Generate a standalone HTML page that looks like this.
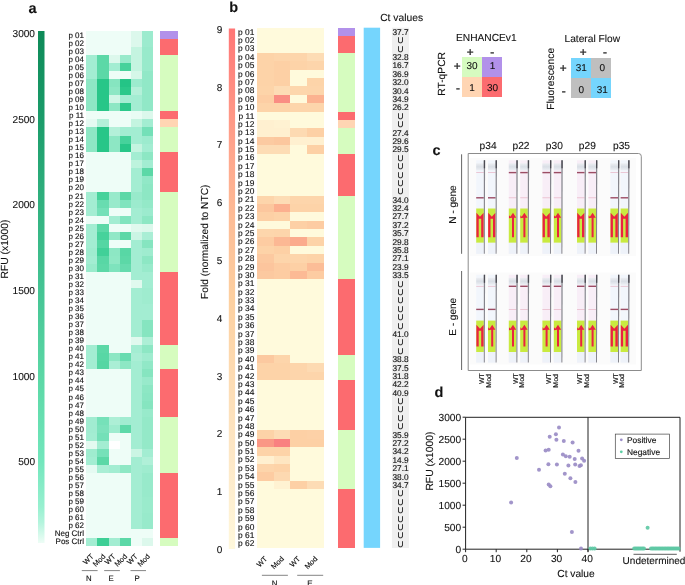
<!DOCTYPE html>
<html><head><meta charset="utf-8"><style>
html,body{margin:0;padding:0;background:#fff;}
svg{display:block;will-change:transform;}
.s{stroke-width:0.14px;}
text{font-family:"Liberation Sans", sans-serif;fill:#111;stroke:#111;stroke-width:0.1px;text-rendering:geometricPrecision;}
</style></head><body>
<svg width="685" height="585" viewBox="0 0 685 585">
<text x="28.6" y="12.8" font-size="14.5" font-weight="bold">a</text>
<defs><linearGradient id="ga" x1="0" y1="0" x2="0" y2="1"><stop offset="0" stop-color="#0e8a58"/><stop offset="0.164" stop-color="#1a9b69"/><stop offset="0.33" stop-color="#30b07e"/><stop offset="0.506" stop-color="#45c494"/><stop offset="0.68" stop-color="#5cd8a6"/><stop offset="0.838" stop-color="#72e6bc"/><stop offset="0.93" stop-color="#98f0d0"/><stop offset="0.96" stop-color="#b4f4dd"/><stop offset="1" stop-color="#eefdf6"/></linearGradient><linearGradient id="gb" x1="0" y1="0" x2="0" y2="1"><stop offset="0" stop-color="#ff7676"/><stop offset="0.1" stop-color="#ff8a80"/><stop offset="0.23" stop-color="#ffa48c"/><stop offset="0.364" stop-color="#fdbc96"/><stop offset="0.522" stop-color="#fdd0a0"/><stop offset="0.806" stop-color="#fde6c4"/><stop offset="1" stop-color="#fff8dc"/></linearGradient></defs>
<rect x="38" y="31" width="6.5" height="512" fill="url(#ga)"/>
<text x="35" y="37.2" font-size="10.1" text-anchor="end">3000</text>
<text x="35" y="122.8" font-size="10.1" text-anchor="end">2500</text>
<text x="35" y="208.4" font-size="10.1" text-anchor="end">2000</text>
<text x="35" y="294.0" font-size="10.1" text-anchor="end">1500</text>
<text x="35" y="379.6" font-size="10.1" text-anchor="end">1000</text>
<text x="35" y="465.2" font-size="10.1" text-anchor="end">500</text>
<text transform="translate(7.7,249) rotate(-90)" font-size="10.3" text-anchor="middle">RFU (x1000)</text>
<rect x="86.30" y="31.00" width="11.41" height="8.34" fill="#eefdf7" shape-rendering="crispEdges"/>
<rect x="97.41" y="31.00" width="11.41" height="8.34" fill="#eefdf7" shape-rendering="crispEdges"/>
<rect x="108.52" y="31.00" width="11.41" height="8.34" fill="#eefdf7" shape-rendering="crispEdges"/>
<rect x="119.63" y="31.00" width="11.41" height="8.34" fill="#eefdf7" shape-rendering="crispEdges"/>
<rect x="130.74" y="31.00" width="11.41" height="8.34" fill="#dcf8ec" shape-rendering="crispEdges"/>
<rect x="141.85" y="31.00" width="11.41" height="8.34" fill="#9cebce" shape-rendering="crispEdges"/>
<text class="s" x="84" y="37.70" font-size="8.0" text-anchor="end">p 01</text>
<rect x="160.3" y="31.00" width="17.4" height="8.34" fill="#b291ea" shape-rendering="crispEdges"/>
<rect x="86.30" y="39.04" width="11.41" height="8.34" fill="#eefdf7" shape-rendering="crispEdges"/>
<rect x="97.41" y="39.04" width="11.41" height="8.34" fill="#eefdf7" shape-rendering="crispEdges"/>
<rect x="108.52" y="39.04" width="11.41" height="8.34" fill="#eefdf7" shape-rendering="crispEdges"/>
<rect x="119.63" y="39.04" width="11.41" height="8.34" fill="#eefdf7" shape-rendering="crispEdges"/>
<rect x="130.74" y="39.04" width="11.41" height="8.34" fill="#dcf8ec" shape-rendering="crispEdges"/>
<rect x="141.85" y="39.04" width="11.41" height="8.34" fill="#9cebce" shape-rendering="crispEdges"/>
<text class="s" x="84" y="45.74" font-size="8.0" text-anchor="end">p 02</text>
<rect x="160.3" y="39.04" width="17.4" height="8.34" fill="#fc6b6f" shape-rendering="crispEdges"/>
<rect x="86.30" y="47.08" width="11.41" height="8.34" fill="#eefdf7" shape-rendering="crispEdges"/>
<rect x="97.41" y="47.08" width="11.41" height="8.34" fill="#eefdf7" shape-rendering="crispEdges"/>
<rect x="108.52" y="47.08" width="11.41" height="8.34" fill="#eefdf7" shape-rendering="crispEdges"/>
<rect x="119.63" y="47.08" width="11.41" height="8.34" fill="#eefdf7" shape-rendering="crispEdges"/>
<rect x="130.74" y="47.08" width="11.41" height="8.34" fill="#c4f4e0" shape-rendering="crispEdges"/>
<rect x="141.85" y="47.08" width="11.41" height="8.34" fill="#98eacb" shape-rendering="crispEdges"/>
<text class="s" x="84" y="53.78" font-size="8.0" text-anchor="end">p 03</text>
<rect x="160.3" y="47.08" width="17.4" height="8.34" fill="#fc6b6f" shape-rendering="crispEdges"/>
<rect x="86.30" y="55.12" width="11.41" height="8.34" fill="#a3edd2" shape-rendering="crispEdges"/>
<rect x="97.41" y="55.12" width="11.41" height="8.34" fill="#5cd8a7" shape-rendering="crispEdges"/>
<rect x="108.52" y="55.12" width="11.41" height="8.34" fill="#dcf8ec" shape-rendering="crispEdges"/>
<rect x="119.63" y="55.12" width="11.41" height="8.34" fill="#98eacb" shape-rendering="crispEdges"/>
<rect x="130.74" y="55.12" width="11.41" height="8.34" fill="#c4f4e0" shape-rendering="crispEdges"/>
<rect x="141.85" y="55.12" width="11.41" height="8.34" fill="#98eacb" shape-rendering="crispEdges"/>
<text class="s" x="84" y="61.82" font-size="8.0" text-anchor="end">p 04</text>
<rect x="160.3" y="55.12" width="17.4" height="8.34" fill="#d6fcbf" shape-rendering="crispEdges"/>
<rect x="86.30" y="63.16" width="11.41" height="8.34" fill="#a3edd2" shape-rendering="crispEdges"/>
<rect x="97.41" y="63.16" width="11.41" height="8.34" fill="#5cd8a7" shape-rendering="crispEdges"/>
<rect x="108.52" y="63.16" width="11.41" height="8.34" fill="#a3edd2" shape-rendering="crispEdges"/>
<rect x="119.63" y="63.16" width="11.41" height="8.34" fill="#46d29b" shape-rendering="crispEdges"/>
<rect x="130.74" y="63.16" width="11.41" height="8.34" fill="#c4f4e0" shape-rendering="crispEdges"/>
<rect x="141.85" y="63.16" width="11.41" height="8.34" fill="#98eacb" shape-rendering="crispEdges"/>
<text class="s" x="84" y="69.86" font-size="8.0" text-anchor="end">p 05</text>
<rect x="160.3" y="63.16" width="17.4" height="8.34" fill="#d6fcbf" shape-rendering="crispEdges"/>
<rect x="86.30" y="71.20" width="11.41" height="8.34" fill="#a3edd2" shape-rendering="crispEdges"/>
<rect x="97.41" y="71.20" width="11.41" height="8.34" fill="#5cd8a7" shape-rendering="crispEdges"/>
<rect x="108.52" y="71.20" width="11.41" height="8.34" fill="#eefdf7" shape-rendering="crispEdges"/>
<rect x="119.63" y="71.20" width="11.41" height="8.34" fill="#eefdf7" shape-rendering="crispEdges"/>
<rect x="130.74" y="71.20" width="11.41" height="8.34" fill="#d5f7e8" shape-rendering="crispEdges"/>
<rect x="141.85" y="71.20" width="11.41" height="8.34" fill="#91e8c7" shape-rendering="crispEdges"/>
<text class="s" x="84" y="77.90" font-size="8.0" text-anchor="end">p 06</text>
<rect x="160.3" y="71.20" width="17.4" height="8.34" fill="#d6fcbf" shape-rendering="crispEdges"/>
<rect x="86.30" y="79.24" width="11.41" height="8.34" fill="#8de7c4" shape-rendering="crispEdges"/>
<rect x="97.41" y="79.24" width="11.41" height="8.34" fill="#28c688" shape-rendering="crispEdges"/>
<rect x="108.52" y="79.24" width="11.41" height="8.34" fill="#86e5c0" shape-rendering="crispEdges"/>
<rect x="119.63" y="79.24" width="11.41" height="8.34" fill="#24c486" shape-rendering="crispEdges"/>
<rect x="130.74" y="79.24" width="11.41" height="8.34" fill="#9cebce" shape-rendering="crispEdges"/>
<rect x="141.85" y="79.24" width="11.41" height="8.34" fill="#91e8c7" shape-rendering="crispEdges"/>
<text class="s" x="84" y="85.94" font-size="8.0" text-anchor="end">p 07</text>
<rect x="160.3" y="79.24" width="17.4" height="8.34" fill="#d6fcbf" shape-rendering="crispEdges"/>
<rect x="86.30" y="87.28" width="11.41" height="8.34" fill="#8de7c4" shape-rendering="crispEdges"/>
<rect x="97.41" y="87.28" width="11.41" height="8.34" fill="#28c688" shape-rendering="crispEdges"/>
<rect x="108.52" y="87.28" width="11.41" height="8.34" fill="#8de7c4" shape-rendering="crispEdges"/>
<rect x="119.63" y="87.28" width="11.41" height="8.34" fill="#2bc88a" shape-rendering="crispEdges"/>
<rect x="130.74" y="87.28" width="11.41" height="8.34" fill="#b4f0d9" shape-rendering="crispEdges"/>
<rect x="141.85" y="87.28" width="11.41" height="8.34" fill="#91e8c7" shape-rendering="crispEdges"/>
<text class="s" x="84" y="93.98" font-size="8.0" text-anchor="end">p 08</text>
<rect x="160.3" y="87.28" width="17.4" height="8.34" fill="#d6fcbf" shape-rendering="crispEdges"/>
<rect x="86.30" y="95.32" width="11.41" height="8.34" fill="#8de7c4" shape-rendering="crispEdges"/>
<rect x="97.41" y="95.32" width="11.41" height="8.34" fill="#28c688" shape-rendering="crispEdges"/>
<rect x="108.52" y="95.32" width="11.41" height="8.34" fill="#d0f6e6" shape-rendering="crispEdges"/>
<rect x="119.63" y="95.32" width="11.41" height="8.34" fill="#a3edd2" shape-rendering="crispEdges"/>
<rect x="130.74" y="95.32" width="11.41" height="8.34" fill="#a3edd2" shape-rendering="crispEdges"/>
<rect x="141.85" y="95.32" width="11.41" height="8.34" fill="#91e8c7" shape-rendering="crispEdges"/>
<text class="s" x="84" y="102.02" font-size="8.0" text-anchor="end">p 09</text>
<rect x="160.3" y="95.32" width="17.4" height="8.34" fill="#d6fcbf" shape-rendering="crispEdges"/>
<rect x="86.30" y="103.36" width="11.41" height="8.34" fill="#8de7c4" shape-rendering="crispEdges"/>
<rect x="97.41" y="103.36" width="11.41" height="8.34" fill="#28c688" shape-rendering="crispEdges"/>
<rect x="108.52" y="103.36" width="11.41" height="8.34" fill="#8de7c4" shape-rendering="crispEdges"/>
<rect x="119.63" y="103.36" width="11.41" height="8.34" fill="#2bc88a" shape-rendering="crispEdges"/>
<rect x="130.74" y="103.36" width="11.41" height="8.34" fill="#a3edd2" shape-rendering="crispEdges"/>
<rect x="141.85" y="103.36" width="11.41" height="8.34" fill="#91e8c7" shape-rendering="crispEdges"/>
<text class="s" x="84" y="110.06" font-size="8.0" text-anchor="end">p 10</text>
<rect x="160.3" y="103.36" width="17.4" height="8.34" fill="#d6fcbf" shape-rendering="crispEdges"/>
<rect x="86.30" y="111.40" width="11.41" height="8.34" fill="#eefdf7" shape-rendering="crispEdges"/>
<rect x="97.41" y="111.40" width="11.41" height="8.34" fill="#eefdf7" shape-rendering="crispEdges"/>
<rect x="108.52" y="111.40" width="11.41" height="8.34" fill="#eefdf7" shape-rendering="crispEdges"/>
<rect x="119.63" y="111.40" width="11.41" height="8.34" fill="#eefdf7" shape-rendering="crispEdges"/>
<rect x="130.74" y="111.40" width="11.41" height="8.34" fill="#e9fcf4" shape-rendering="crispEdges"/>
<rect x="141.85" y="111.40" width="11.41" height="8.34" fill="#dcf8ec" shape-rendering="crispEdges"/>
<text class="s" x="84" y="118.10" font-size="8.0" text-anchor="end">p 11</text>
<rect x="160.3" y="111.40" width="17.4" height="8.34" fill="#fc6b6f" shape-rendering="crispEdges"/>
<rect x="86.30" y="119.44" width="11.41" height="8.34" fill="#e5faf2" shape-rendering="crispEdges"/>
<rect x="97.41" y="119.44" width="11.41" height="8.34" fill="#b4f0d9" shape-rendering="crispEdges"/>
<rect x="108.52" y="119.44" width="11.41" height="8.34" fill="#eefdf7" shape-rendering="crispEdges"/>
<rect x="119.63" y="119.44" width="11.41" height="8.34" fill="#eefdf7" shape-rendering="crispEdges"/>
<rect x="130.74" y="119.44" width="11.41" height="8.34" fill="#c4f4e0" shape-rendering="crispEdges"/>
<rect x="141.85" y="119.44" width="11.41" height="8.34" fill="#a3edd2" shape-rendering="crispEdges"/>
<text class="s" x="84" y="126.14" font-size="8.0" text-anchor="end">p 12</text>
<rect x="160.3" y="119.44" width="17.4" height="8.34" fill="#ffd5b3" shape-rendering="crispEdges"/>
<rect x="86.30" y="127.48" width="11.41" height="8.34" fill="#8de7c4" shape-rendering="crispEdges"/>
<rect x="97.41" y="127.48" width="11.41" height="8.34" fill="#28c688" shape-rendering="crispEdges"/>
<rect x="108.52" y="127.48" width="11.41" height="8.34" fill="#b4f0d9" shape-rendering="crispEdges"/>
<rect x="119.63" y="127.48" width="11.41" height="8.34" fill="#a3edd2" shape-rendering="crispEdges"/>
<rect x="130.74" y="127.48" width="11.41" height="8.34" fill="#a3edd2" shape-rendering="crispEdges"/>
<rect x="141.85" y="127.48" width="11.41" height="8.34" fill="#74e0b8" shape-rendering="crispEdges"/>
<text class="s" x="84" y="134.18" font-size="8.0" text-anchor="end">p 13</text>
<rect x="160.3" y="127.48" width="17.4" height="8.34" fill="#d6fcbf" shape-rendering="crispEdges"/>
<rect x="86.30" y="135.52" width="11.41" height="8.34" fill="#8de7c4" shape-rendering="crispEdges"/>
<rect x="97.41" y="135.52" width="11.41" height="8.34" fill="#28c688" shape-rendering="crispEdges"/>
<rect x="108.52" y="135.52" width="11.41" height="8.34" fill="#8de7c4" shape-rendering="crispEdges"/>
<rect x="119.63" y="135.52" width="11.41" height="8.34" fill="#46d29b" shape-rendering="crispEdges"/>
<rect x="130.74" y="135.52" width="11.41" height="8.34" fill="#a3edd2" shape-rendering="crispEdges"/>
<rect x="141.85" y="135.52" width="11.41" height="8.34" fill="#9cebce" shape-rendering="crispEdges"/>
<text class="s" x="84" y="142.22" font-size="8.0" text-anchor="end">p 14</text>
<rect x="160.3" y="135.52" width="17.4" height="8.34" fill="#d6fcbf" shape-rendering="crispEdges"/>
<rect x="86.30" y="143.56" width="11.41" height="8.34" fill="#8de7c4" shape-rendering="crispEdges"/>
<rect x="97.41" y="143.56" width="11.41" height="8.34" fill="#28c688" shape-rendering="crispEdges"/>
<rect x="108.52" y="143.56" width="11.41" height="8.34" fill="#8de7c4" shape-rendering="crispEdges"/>
<rect x="119.63" y="143.56" width="11.41" height="8.34" fill="#28c688" shape-rendering="crispEdges"/>
<rect x="130.74" y="143.56" width="11.41" height="8.34" fill="#c4f4e0" shape-rendering="crispEdges"/>
<rect x="141.85" y="143.56" width="11.41" height="8.34" fill="#a3edd2" shape-rendering="crispEdges"/>
<text class="s" x="84" y="150.26" font-size="8.0" text-anchor="end">p 15</text>
<rect x="160.3" y="143.56" width="17.4" height="8.34" fill="#d6fcbf" shape-rendering="crispEdges"/>
<rect x="86.30" y="151.60" width="11.41" height="8.34" fill="#eefdf7" shape-rendering="crispEdges"/>
<rect x="97.41" y="151.60" width="11.41" height="8.34" fill="#eefdf7" shape-rendering="crispEdges"/>
<rect x="108.52" y="151.60" width="11.41" height="8.34" fill="#eefdf7" shape-rendering="crispEdges"/>
<rect x="119.63" y="151.60" width="11.41" height="8.34" fill="#eefdf7" shape-rendering="crispEdges"/>
<rect x="130.74" y="151.60" width="11.41" height="8.34" fill="#a3edd2" shape-rendering="crispEdges"/>
<rect x="141.85" y="151.60" width="11.41" height="8.34" fill="#8de7c4" shape-rendering="crispEdges"/>
<text class="s" x="84" y="158.30" font-size="8.0" text-anchor="end">p 16</text>
<rect x="160.3" y="151.60" width="17.4" height="8.34" fill="#fc6b6f" shape-rendering="crispEdges"/>
<rect x="86.30" y="159.64" width="11.41" height="8.34" fill="#eefdf7" shape-rendering="crispEdges"/>
<rect x="97.41" y="159.64" width="11.41" height="8.34" fill="#eefdf7" shape-rendering="crispEdges"/>
<rect x="108.52" y="159.64" width="11.41" height="8.34" fill="#eefdf7" shape-rendering="crispEdges"/>
<rect x="119.63" y="159.64" width="11.41" height="8.34" fill="#eefdf7" shape-rendering="crispEdges"/>
<rect x="130.74" y="159.64" width="11.41" height="8.34" fill="#bdf3dd" shape-rendering="crispEdges"/>
<rect x="141.85" y="159.64" width="11.41" height="8.34" fill="#a3edd2" shape-rendering="crispEdges"/>
<text class="s" x="84" y="166.34" font-size="8.0" text-anchor="end">p 17</text>
<rect x="160.3" y="159.64" width="17.4" height="8.34" fill="#fc6b6f" shape-rendering="crispEdges"/>
<rect x="86.30" y="167.68" width="11.41" height="8.34" fill="#eefdf7" shape-rendering="crispEdges"/>
<rect x="97.41" y="167.68" width="11.41" height="8.34" fill="#eefdf7" shape-rendering="crispEdges"/>
<rect x="108.52" y="167.68" width="11.41" height="8.34" fill="#eefdf7" shape-rendering="crispEdges"/>
<rect x="119.63" y="167.68" width="11.41" height="8.34" fill="#eefdf7" shape-rendering="crispEdges"/>
<rect x="130.74" y="167.68" width="11.41" height="8.34" fill="#a3edd2" shape-rendering="crispEdges"/>
<rect x="141.85" y="167.68" width="11.41" height="8.34" fill="#5cd8a7" shape-rendering="crispEdges"/>
<text class="s" x="84" y="174.38" font-size="8.0" text-anchor="end">p 18</text>
<rect x="160.3" y="167.68" width="17.4" height="8.34" fill="#fc6b6f" shape-rendering="crispEdges"/>
<rect x="86.30" y="175.72" width="11.41" height="8.34" fill="#eefdf7" shape-rendering="crispEdges"/>
<rect x="97.41" y="175.72" width="11.41" height="8.34" fill="#eefdf7" shape-rendering="crispEdges"/>
<rect x="108.52" y="175.72" width="11.41" height="8.34" fill="#eefdf7" shape-rendering="crispEdges"/>
<rect x="119.63" y="175.72" width="11.41" height="8.34" fill="#eefdf7" shape-rendering="crispEdges"/>
<rect x="130.74" y="175.72" width="11.41" height="8.34" fill="#a3edd2" shape-rendering="crispEdges"/>
<rect x="141.85" y="175.72" width="11.41" height="8.34" fill="#91e8c7" shape-rendering="crispEdges"/>
<text class="s" x="84" y="182.42" font-size="8.0" text-anchor="end">p 19</text>
<rect x="160.3" y="175.72" width="17.4" height="8.34" fill="#fc6b6f" shape-rendering="crispEdges"/>
<rect x="86.30" y="183.76" width="11.41" height="8.34" fill="#eefdf7" shape-rendering="crispEdges"/>
<rect x="97.41" y="183.76" width="11.41" height="8.34" fill="#eefdf7" shape-rendering="crispEdges"/>
<rect x="108.52" y="183.76" width="11.41" height="8.34" fill="#eefdf7" shape-rendering="crispEdges"/>
<rect x="119.63" y="183.76" width="11.41" height="8.34" fill="#eefdf7" shape-rendering="crispEdges"/>
<rect x="130.74" y="183.76" width="11.41" height="8.34" fill="#a3edd2" shape-rendering="crispEdges"/>
<rect x="141.85" y="183.76" width="11.41" height="8.34" fill="#8de7c4" shape-rendering="crispEdges"/>
<text class="s" x="84" y="190.46" font-size="8.0" text-anchor="end">p 20</text>
<rect x="160.3" y="183.76" width="17.4" height="8.34" fill="#fc6b6f" shape-rendering="crispEdges"/>
<rect x="86.30" y="191.80" width="11.41" height="8.34" fill="#a3edd2" shape-rendering="crispEdges"/>
<rect x="97.41" y="191.80" width="11.41" height="8.34" fill="#46d29b" shape-rendering="crispEdges"/>
<rect x="108.52" y="191.80" width="11.41" height="8.34" fill="#98eacb" shape-rendering="crispEdges"/>
<rect x="119.63" y="191.80" width="11.41" height="8.34" fill="#5cd8a7" shape-rendering="crispEdges"/>
<rect x="130.74" y="191.80" width="11.41" height="8.34" fill="#98eacb" shape-rendering="crispEdges"/>
<rect x="141.85" y="191.80" width="11.41" height="8.34" fill="#8de7c4" shape-rendering="crispEdges"/>
<text class="s" x="84" y="198.50" font-size="8.0" text-anchor="end">p 21</text>
<rect x="160.3" y="191.80" width="17.4" height="8.34" fill="#d6fcbf" shape-rendering="crispEdges"/>
<rect x="86.30" y="199.84" width="11.41" height="8.34" fill="#a3edd2" shape-rendering="crispEdges"/>
<rect x="97.41" y="199.84" width="11.41" height="8.34" fill="#68dcb0" shape-rendering="crispEdges"/>
<rect x="108.52" y="199.84" width="11.41" height="8.34" fill="#98eacb" shape-rendering="crispEdges"/>
<rect x="119.63" y="199.84" width="11.41" height="8.34" fill="#80e4be" shape-rendering="crispEdges"/>
<rect x="130.74" y="199.84" width="11.41" height="8.34" fill="#9cebce" shape-rendering="crispEdges"/>
<rect x="141.85" y="199.84" width="11.41" height="8.34" fill="#94e9c8" shape-rendering="crispEdges"/>
<text class="s" x="84" y="206.54" font-size="8.0" text-anchor="end">p 22</text>
<rect x="160.3" y="199.84" width="17.4" height="8.34" fill="#d6fcbf" shape-rendering="crispEdges"/>
<rect x="86.30" y="207.88" width="11.41" height="8.34" fill="#a3edd2" shape-rendering="crispEdges"/>
<rect x="97.41" y="207.88" width="11.41" height="8.34" fill="#74e0b8" shape-rendering="crispEdges"/>
<rect x="108.52" y="207.88" width="11.41" height="8.34" fill="#eefdf7" shape-rendering="crispEdges"/>
<rect x="119.63" y="207.88" width="11.41" height="8.34" fill="#eefdf7" shape-rendering="crispEdges"/>
<rect x="130.74" y="207.88" width="11.41" height="8.34" fill="#a3edd2" shape-rendering="crispEdges"/>
<rect x="141.85" y="207.88" width="11.41" height="8.34" fill="#9cebce" shape-rendering="crispEdges"/>
<text class="s" x="84" y="214.58" font-size="8.0" text-anchor="end">p 23</text>
<rect x="160.3" y="207.88" width="17.4" height="8.34" fill="#d6fcbf" shape-rendering="crispEdges"/>
<rect x="86.30" y="215.92" width="11.41" height="8.34" fill="#eefdf7" shape-rendering="crispEdges"/>
<rect x="97.41" y="215.92" width="11.41" height="8.34" fill="#eefdf7" shape-rendering="crispEdges"/>
<rect x="108.52" y="215.92" width="11.41" height="8.34" fill="#a3edd2" shape-rendering="crispEdges"/>
<rect x="119.63" y="215.92" width="11.41" height="8.34" fill="#80e4be" shape-rendering="crispEdges"/>
<rect x="130.74" y="215.92" width="11.41" height="8.34" fill="#a3edd2" shape-rendering="crispEdges"/>
<rect x="141.85" y="215.92" width="11.41" height="8.34" fill="#8de7c4" shape-rendering="crispEdges"/>
<text class="s" x="84" y="222.62" font-size="8.0" text-anchor="end">p 24</text>
<rect x="160.3" y="215.92" width="17.4" height="8.34" fill="#d6fcbf" shape-rendering="crispEdges"/>
<rect x="86.30" y="223.96" width="11.41" height="8.34" fill="#a3edd2" shape-rendering="crispEdges"/>
<rect x="97.41" y="223.96" width="11.41" height="8.34" fill="#5cd8a7" shape-rendering="crispEdges"/>
<rect x="108.52" y="223.96" width="11.41" height="8.34" fill="#eefdf7" shape-rendering="crispEdges"/>
<rect x="119.63" y="223.96" width="11.41" height="8.34" fill="#eefdf7" shape-rendering="crispEdges"/>
<rect x="130.74" y="223.96" width="11.41" height="8.34" fill="#e0f9ee" shape-rendering="crispEdges"/>
<rect x="141.85" y="223.96" width="11.41" height="8.34" fill="#dcf8ec" shape-rendering="crispEdges"/>
<text class="s" x="84" y="230.66" font-size="8.0" text-anchor="end">p 25</text>
<rect x="160.3" y="223.96" width="17.4" height="8.34" fill="#d6fcbf" shape-rendering="crispEdges"/>
<rect x="86.30" y="232.00" width="11.41" height="8.34" fill="#a3edd2" shape-rendering="crispEdges"/>
<rect x="97.41" y="232.00" width="11.41" height="8.34" fill="#46d29b" shape-rendering="crispEdges"/>
<rect x="108.52" y="232.00" width="11.41" height="8.34" fill="#91e8c7" shape-rendering="crispEdges"/>
<rect x="119.63" y="232.00" width="11.41" height="8.34" fill="#5cd8a7" shape-rendering="crispEdges"/>
<rect x="130.74" y="232.00" width="11.41" height="8.34" fill="#cbf5e4" shape-rendering="crispEdges"/>
<rect x="141.85" y="232.00" width="11.41" height="8.34" fill="#aaeed5" shape-rendering="crispEdges"/>
<text class="s" x="84" y="238.70" font-size="8.0" text-anchor="end">p 26</text>
<rect x="160.3" y="232.00" width="17.4" height="8.34" fill="#d6fcbf" shape-rendering="crispEdges"/>
<rect x="86.30" y="240.04" width="11.41" height="8.34" fill="#a3edd2" shape-rendering="crispEdges"/>
<rect x="97.41" y="240.04" width="11.41" height="8.34" fill="#55d6a3" shape-rendering="crispEdges"/>
<rect x="108.52" y="240.04" width="11.41" height="8.34" fill="#eefdf7" shape-rendering="crispEdges"/>
<rect x="119.63" y="240.04" width="11.41" height="8.34" fill="#eefdf7" shape-rendering="crispEdges"/>
<rect x="130.74" y="240.04" width="11.41" height="8.34" fill="#a3edd2" shape-rendering="crispEdges"/>
<rect x="141.85" y="240.04" width="11.41" height="8.34" fill="#86e5c0" shape-rendering="crispEdges"/>
<text class="s" x="84" y="246.74" font-size="8.0" text-anchor="end">p 27</text>
<rect x="160.3" y="240.04" width="17.4" height="8.34" fill="#d6fcbf" shape-rendering="crispEdges"/>
<rect x="86.30" y="248.08" width="11.41" height="8.34" fill="#9feccf" shape-rendering="crispEdges"/>
<rect x="97.41" y="248.08" width="11.41" height="8.34" fill="#41d098" shape-rendering="crispEdges"/>
<rect x="108.52" y="248.08" width="11.41" height="8.34" fill="#8de7c4" shape-rendering="crispEdges"/>
<rect x="119.63" y="248.08" width="11.41" height="8.34" fill="#58d7a5" shape-rendering="crispEdges"/>
<rect x="130.74" y="248.08" width="11.41" height="8.34" fill="#a3edd2" shape-rendering="crispEdges"/>
<rect x="141.85" y="248.08" width="11.41" height="8.34" fill="#9feccf" shape-rendering="crispEdges"/>
<text class="s" x="84" y="254.78" font-size="8.0" text-anchor="end">p 28</text>
<rect x="160.3" y="248.08" width="17.4" height="8.34" fill="#d6fcbf" shape-rendering="crispEdges"/>
<rect x="86.30" y="256.12" width="11.41" height="8.34" fill="#a3edd2" shape-rendering="crispEdges"/>
<rect x="97.41" y="256.12" width="11.41" height="8.34" fill="#58d7a5" shape-rendering="crispEdges"/>
<rect x="108.52" y="256.12" width="11.41" height="8.34" fill="#8fe8c5" shape-rendering="crispEdges"/>
<rect x="119.63" y="256.12" width="11.41" height="8.34" fill="#5cd8a7" shape-rendering="crispEdges"/>
<rect x="130.74" y="256.12" width="11.41" height="8.34" fill="#a3edd2" shape-rendering="crispEdges"/>
<rect x="141.85" y="256.12" width="11.41" height="8.34" fill="#8de7c4" shape-rendering="crispEdges"/>
<text class="s" x="84" y="262.82" font-size="8.0" text-anchor="end">p 29</text>
<rect x="160.3" y="256.12" width="17.4" height="8.34" fill="#d6fcbf" shape-rendering="crispEdges"/>
<rect x="86.30" y="264.16" width="11.41" height="8.34" fill="#9aebcc" shape-rendering="crispEdges"/>
<rect x="97.41" y="264.16" width="11.41" height="8.34" fill="#5cd8a7" shape-rendering="crispEdges"/>
<rect x="108.52" y="264.16" width="11.41" height="8.34" fill="#7ee3bd" shape-rendering="crispEdges"/>
<rect x="119.63" y="264.16" width="11.41" height="8.34" fill="#66dbae" shape-rendering="crispEdges"/>
<rect x="130.74" y="264.16" width="11.41" height="8.34" fill="#a3edd2" shape-rendering="crispEdges"/>
<rect x="141.85" y="264.16" width="11.41" height="8.34" fill="#98eacb" shape-rendering="crispEdges"/>
<text class="s" x="84" y="270.86" font-size="8.0" text-anchor="end">p 30</text>
<rect x="160.3" y="264.16" width="17.4" height="8.34" fill="#d6fcbf" shape-rendering="crispEdges"/>
<rect x="86.30" y="272.20" width="11.41" height="8.34" fill="#eefdf7" shape-rendering="crispEdges"/>
<rect x="97.41" y="272.20" width="11.41" height="8.34" fill="#eefdf7" shape-rendering="crispEdges"/>
<rect x="108.52" y="272.20" width="11.41" height="8.34" fill="#eefdf7" shape-rendering="crispEdges"/>
<rect x="119.63" y="272.20" width="11.41" height="8.34" fill="#eefdf7" shape-rendering="crispEdges"/>
<rect x="130.74" y="272.20" width="11.41" height="8.34" fill="#a3edd2" shape-rendering="crispEdges"/>
<rect x="141.85" y="272.20" width="11.41" height="8.34" fill="#a3edd2" shape-rendering="crispEdges"/>
<text class="s" x="84" y="278.90" font-size="8.0" text-anchor="end">p 31</text>
<rect x="160.3" y="272.20" width="17.4" height="8.34" fill="#fc6b6f" shape-rendering="crispEdges"/>
<rect x="86.30" y="280.24" width="11.41" height="8.34" fill="#eefdf7" shape-rendering="crispEdges"/>
<rect x="97.41" y="280.24" width="11.41" height="8.34" fill="#eefdf7" shape-rendering="crispEdges"/>
<rect x="108.52" y="280.24" width="11.41" height="8.34" fill="#eefdf7" shape-rendering="crispEdges"/>
<rect x="119.63" y="280.24" width="11.41" height="8.34" fill="#eefdf7" shape-rendering="crispEdges"/>
<rect x="130.74" y="280.24" width="11.41" height="8.34" fill="#e0f9ee" shape-rendering="crispEdges"/>
<rect x="141.85" y="280.24" width="11.41" height="8.34" fill="#a3edd2" shape-rendering="crispEdges"/>
<text class="s" x="84" y="286.94" font-size="8.0" text-anchor="end">p 32</text>
<rect x="160.3" y="280.24" width="17.4" height="8.34" fill="#fc6b6f" shape-rendering="crispEdges"/>
<rect x="86.30" y="288.28" width="11.41" height="8.34" fill="#eefdf7" shape-rendering="crispEdges"/>
<rect x="97.41" y="288.28" width="11.41" height="8.34" fill="#eefdf7" shape-rendering="crispEdges"/>
<rect x="108.52" y="288.28" width="11.41" height="8.34" fill="#eefdf7" shape-rendering="crispEdges"/>
<rect x="119.63" y="288.28" width="11.41" height="8.34" fill="#eefdf7" shape-rendering="crispEdges"/>
<rect x="130.74" y="288.28" width="11.41" height="8.34" fill="#a3edd2" shape-rendering="crispEdges"/>
<rect x="141.85" y="288.28" width="11.41" height="8.34" fill="#9feccf" shape-rendering="crispEdges"/>
<text class="s" x="84" y="294.98" font-size="8.0" text-anchor="end">p 33</text>
<rect x="160.3" y="288.28" width="17.4" height="8.34" fill="#fc6b6f" shape-rendering="crispEdges"/>
<rect x="86.30" y="296.32" width="11.41" height="8.34" fill="#eefdf7" shape-rendering="crispEdges"/>
<rect x="97.41" y="296.32" width="11.41" height="8.34" fill="#eefdf7" shape-rendering="crispEdges"/>
<rect x="108.52" y="296.32" width="11.41" height="8.34" fill="#eefdf7" shape-rendering="crispEdges"/>
<rect x="119.63" y="296.32" width="11.41" height="8.34" fill="#eefdf7" shape-rendering="crispEdges"/>
<rect x="130.74" y="296.32" width="11.41" height="8.34" fill="#a3edd2" shape-rendering="crispEdges"/>
<rect x="141.85" y="296.32" width="11.41" height="8.34" fill="#9feccf" shape-rendering="crispEdges"/>
<text class="s" x="84" y="303.02" font-size="8.0" text-anchor="end">p 34</text>
<rect x="160.3" y="296.32" width="17.4" height="8.34" fill="#fc6b6f" shape-rendering="crispEdges"/>
<rect x="86.30" y="304.36" width="11.41" height="8.34" fill="#eefdf7" shape-rendering="crispEdges"/>
<rect x="97.41" y="304.36" width="11.41" height="8.34" fill="#eefdf7" shape-rendering="crispEdges"/>
<rect x="108.52" y="304.36" width="11.41" height="8.34" fill="#eefdf7" shape-rendering="crispEdges"/>
<rect x="119.63" y="304.36" width="11.41" height="8.34" fill="#eefdf7" shape-rendering="crispEdges"/>
<rect x="130.74" y="304.36" width="11.41" height="8.34" fill="#a3edd2" shape-rendering="crispEdges"/>
<rect x="141.85" y="304.36" width="11.41" height="8.34" fill="#a3edd2" shape-rendering="crispEdges"/>
<text class="s" x="84" y="311.06" font-size="8.0" text-anchor="end">p 35</text>
<rect x="160.3" y="304.36" width="17.4" height="8.34" fill="#fc6b6f" shape-rendering="crispEdges"/>
<rect x="86.30" y="312.40" width="11.41" height="8.34" fill="#eefdf7" shape-rendering="crispEdges"/>
<rect x="97.41" y="312.40" width="11.41" height="8.34" fill="#eefdf7" shape-rendering="crispEdges"/>
<rect x="108.52" y="312.40" width="11.41" height="8.34" fill="#eefdf7" shape-rendering="crispEdges"/>
<rect x="119.63" y="312.40" width="11.41" height="8.34" fill="#eefdf7" shape-rendering="crispEdges"/>
<rect x="130.74" y="312.40" width="11.41" height="8.34" fill="#a3edd2" shape-rendering="crispEdges"/>
<rect x="141.85" y="312.40" width="11.41" height="8.34" fill="#a3edd2" shape-rendering="crispEdges"/>
<text class="s" x="84" y="319.10" font-size="8.0" text-anchor="end">p 36</text>
<rect x="160.3" y="312.40" width="17.4" height="8.34" fill="#fc6b6f" shape-rendering="crispEdges"/>
<rect x="86.30" y="320.44" width="11.41" height="8.34" fill="#eefdf7" shape-rendering="crispEdges"/>
<rect x="97.41" y="320.44" width="11.41" height="8.34" fill="#eefdf7" shape-rendering="crispEdges"/>
<rect x="108.52" y="320.44" width="11.41" height="8.34" fill="#eefdf7" shape-rendering="crispEdges"/>
<rect x="119.63" y="320.44" width="11.41" height="8.34" fill="#eefdf7" shape-rendering="crispEdges"/>
<rect x="130.74" y="320.44" width="11.41" height="8.34" fill="#a3edd2" shape-rendering="crispEdges"/>
<rect x="141.85" y="320.44" width="11.41" height="8.34" fill="#86e5c0" shape-rendering="crispEdges"/>
<text class="s" x="84" y="327.14" font-size="8.0" text-anchor="end">p 37</text>
<rect x="160.3" y="320.44" width="17.4" height="8.34" fill="#fc6b6f" shape-rendering="crispEdges"/>
<rect x="86.30" y="328.48" width="11.41" height="8.34" fill="#eefdf7" shape-rendering="crispEdges"/>
<rect x="97.41" y="328.48" width="11.41" height="8.34" fill="#eefdf7" shape-rendering="crispEdges"/>
<rect x="108.52" y="328.48" width="11.41" height="8.34" fill="#eefdf7" shape-rendering="crispEdges"/>
<rect x="119.63" y="328.48" width="11.41" height="8.34" fill="#eefdf7" shape-rendering="crispEdges"/>
<rect x="130.74" y="328.48" width="11.41" height="8.34" fill="#a3edd2" shape-rendering="crispEdges"/>
<rect x="141.85" y="328.48" width="11.41" height="8.34" fill="#86e5c0" shape-rendering="crispEdges"/>
<text class="s" x="84" y="335.18" font-size="8.0" text-anchor="end">p 38</text>
<rect x="160.3" y="328.48" width="17.4" height="8.34" fill="#fc6b6f" shape-rendering="crispEdges"/>
<rect x="86.30" y="336.52" width="11.41" height="8.34" fill="#eefdf7" shape-rendering="crispEdges"/>
<rect x="97.41" y="336.52" width="11.41" height="8.34" fill="#eefdf7" shape-rendering="crispEdges"/>
<rect x="108.52" y="336.52" width="11.41" height="8.34" fill="#eefdf7" shape-rendering="crispEdges"/>
<rect x="119.63" y="336.52" width="11.41" height="8.34" fill="#eefdf7" shape-rendering="crispEdges"/>
<rect x="130.74" y="336.52" width="11.41" height="8.34" fill="#e0f9ee" shape-rendering="crispEdges"/>
<rect x="141.85" y="336.52" width="11.41" height="8.34" fill="#adefd6" shape-rendering="crispEdges"/>
<text class="s" x="84" y="343.22" font-size="8.0" text-anchor="end">p 39</text>
<rect x="160.3" y="336.52" width="17.4" height="8.34" fill="#fc6b6f" shape-rendering="crispEdges"/>
<rect x="86.30" y="344.56" width="11.41" height="8.34" fill="#a3edd2" shape-rendering="crispEdges"/>
<rect x="97.41" y="344.56" width="11.41" height="8.34" fill="#5cd8a7" shape-rendering="crispEdges"/>
<rect x="108.52" y="344.56" width="11.41" height="8.34" fill="#eefdf7" shape-rendering="crispEdges"/>
<rect x="119.63" y="344.56" width="11.41" height="8.34" fill="#eefdf7" shape-rendering="crispEdges"/>
<rect x="130.74" y="344.56" width="11.41" height="8.34" fill="#a3edd2" shape-rendering="crispEdges"/>
<rect x="141.85" y="344.56" width="11.41" height="8.34" fill="#8de7c4" shape-rendering="crispEdges"/>
<text class="s" x="84" y="351.26" font-size="8.0" text-anchor="end">p 40</text>
<rect x="160.3" y="344.56" width="17.4" height="8.34" fill="#d6fcbf" shape-rendering="crispEdges"/>
<rect x="86.30" y="352.60" width="11.41" height="8.34" fill="#a3edd2" shape-rendering="crispEdges"/>
<rect x="97.41" y="352.60" width="11.41" height="8.34" fill="#58d7a5" shape-rendering="crispEdges"/>
<rect x="108.52" y="352.60" width="11.41" height="8.34" fill="#8de7c4" shape-rendering="crispEdges"/>
<rect x="119.63" y="352.60" width="11.41" height="8.34" fill="#68dcb0" shape-rendering="crispEdges"/>
<rect x="130.74" y="352.60" width="11.41" height="8.34" fill="#aaeed5" shape-rendering="crispEdges"/>
<rect x="141.85" y="352.60" width="11.41" height="8.34" fill="#9feccf" shape-rendering="crispEdges"/>
<text class="s" x="84" y="359.30" font-size="8.0" text-anchor="end">p 41</text>
<rect x="160.3" y="352.60" width="17.4" height="8.34" fill="#d6fcbf" shape-rendering="crispEdges"/>
<rect x="86.30" y="360.64" width="11.41" height="8.34" fill="#a3edd2" shape-rendering="crispEdges"/>
<rect x="97.41" y="360.64" width="11.41" height="8.34" fill="#55d6a3" shape-rendering="crispEdges"/>
<rect x="108.52" y="360.64" width="11.41" height="8.34" fill="#aaeed5" shape-rendering="crispEdges"/>
<rect x="119.63" y="360.64" width="11.41" height="8.34" fill="#8de7c4" shape-rendering="crispEdges"/>
<rect x="130.74" y="360.64" width="11.41" height="8.34" fill="#a3edd2" shape-rendering="crispEdges"/>
<rect x="141.85" y="360.64" width="11.41" height="8.34" fill="#91e8c7" shape-rendering="crispEdges"/>
<text class="s" x="84" y="367.34" font-size="8.0" text-anchor="end">p 42</text>
<rect x="160.3" y="360.64" width="17.4" height="8.34" fill="#d6fcbf" shape-rendering="crispEdges"/>
<rect x="86.30" y="368.68" width="11.41" height="8.34" fill="#eefdf7" shape-rendering="crispEdges"/>
<rect x="97.41" y="368.68" width="11.41" height="8.34" fill="#eefdf7" shape-rendering="crispEdges"/>
<rect x="108.52" y="368.68" width="11.41" height="8.34" fill="#eefdf7" shape-rendering="crispEdges"/>
<rect x="119.63" y="368.68" width="11.41" height="8.34" fill="#eefdf7" shape-rendering="crispEdges"/>
<rect x="130.74" y="368.68" width="11.41" height="8.34" fill="#a3edd2" shape-rendering="crispEdges"/>
<rect x="141.85" y="368.68" width="11.41" height="8.34" fill="#86e5c0" shape-rendering="crispEdges"/>
<text class="s" x="84" y="375.38" font-size="8.0" text-anchor="end">p 43</text>
<rect x="160.3" y="368.68" width="17.4" height="8.34" fill="#fc6b6f" shape-rendering="crispEdges"/>
<rect x="86.30" y="376.72" width="11.41" height="8.34" fill="#eefdf7" shape-rendering="crispEdges"/>
<rect x="97.41" y="376.72" width="11.41" height="8.34" fill="#eefdf7" shape-rendering="crispEdges"/>
<rect x="108.52" y="376.72" width="11.41" height="8.34" fill="#eefdf7" shape-rendering="crispEdges"/>
<rect x="119.63" y="376.72" width="11.41" height="8.34" fill="#eefdf7" shape-rendering="crispEdges"/>
<rect x="130.74" y="376.72" width="11.41" height="8.34" fill="#a3edd2" shape-rendering="crispEdges"/>
<rect x="141.85" y="376.72" width="11.41" height="8.34" fill="#98eacb" shape-rendering="crispEdges"/>
<text class="s" x="84" y="383.42" font-size="8.0" text-anchor="end">p 44</text>
<rect x="160.3" y="376.72" width="17.4" height="8.34" fill="#fc6b6f" shape-rendering="crispEdges"/>
<rect x="86.30" y="384.76" width="11.41" height="8.34" fill="#eefdf7" shape-rendering="crispEdges"/>
<rect x="97.41" y="384.76" width="11.41" height="8.34" fill="#eefdf7" shape-rendering="crispEdges"/>
<rect x="108.52" y="384.76" width="11.41" height="8.34" fill="#eefdf7" shape-rendering="crispEdges"/>
<rect x="119.63" y="384.76" width="11.41" height="8.34" fill="#eefdf7" shape-rendering="crispEdges"/>
<rect x="130.74" y="384.76" width="11.41" height="8.34" fill="#a3edd2" shape-rendering="crispEdges"/>
<rect x="141.85" y="384.76" width="11.41" height="8.34" fill="#8de7c4" shape-rendering="crispEdges"/>
<text class="s" x="84" y="391.46" font-size="8.0" text-anchor="end">p 45</text>
<rect x="160.3" y="384.76" width="17.4" height="8.34" fill="#fc6b6f" shape-rendering="crispEdges"/>
<rect x="86.30" y="392.80" width="11.41" height="8.34" fill="#eefdf7" shape-rendering="crispEdges"/>
<rect x="97.41" y="392.80" width="11.41" height="8.34" fill="#eefdf7" shape-rendering="crispEdges"/>
<rect x="108.52" y="392.80" width="11.41" height="8.34" fill="#eefdf7" shape-rendering="crispEdges"/>
<rect x="119.63" y="392.80" width="11.41" height="8.34" fill="#eefdf7" shape-rendering="crispEdges"/>
<rect x="130.74" y="392.80" width="11.41" height="8.34" fill="#a3edd2" shape-rendering="crispEdges"/>
<rect x="141.85" y="392.80" width="11.41" height="8.34" fill="#8ae6c3" shape-rendering="crispEdges"/>
<text class="s" x="84" y="399.50" font-size="8.0" text-anchor="end">p 46</text>
<rect x="160.3" y="392.80" width="17.4" height="8.34" fill="#fc6b6f" shape-rendering="crispEdges"/>
<rect x="86.30" y="400.84" width="11.41" height="8.34" fill="#eefdf7" shape-rendering="crispEdges"/>
<rect x="97.41" y="400.84" width="11.41" height="8.34" fill="#eefdf7" shape-rendering="crispEdges"/>
<rect x="108.52" y="400.84" width="11.41" height="8.34" fill="#eefdf7" shape-rendering="crispEdges"/>
<rect x="119.63" y="400.84" width="11.41" height="8.34" fill="#eefdf7" shape-rendering="crispEdges"/>
<rect x="130.74" y="400.84" width="11.41" height="8.34" fill="#a3edd2" shape-rendering="crispEdges"/>
<rect x="141.85" y="400.84" width="11.41" height="8.34" fill="#86e5c0" shape-rendering="crispEdges"/>
<text class="s" x="84" y="407.54" font-size="8.0" text-anchor="end">p 47</text>
<rect x="160.3" y="400.84" width="17.4" height="8.34" fill="#fc6b6f" shape-rendering="crispEdges"/>
<rect x="86.30" y="408.88" width="11.41" height="8.34" fill="#eefdf7" shape-rendering="crispEdges"/>
<rect x="97.41" y="408.88" width="11.41" height="8.34" fill="#eefdf7" shape-rendering="crispEdges"/>
<rect x="108.52" y="408.88" width="11.41" height="8.34" fill="#eefdf7" shape-rendering="crispEdges"/>
<rect x="119.63" y="408.88" width="11.41" height="8.34" fill="#eefdf7" shape-rendering="crispEdges"/>
<rect x="130.74" y="408.88" width="11.41" height="8.34" fill="#a3edd2" shape-rendering="crispEdges"/>
<rect x="141.85" y="408.88" width="11.41" height="8.34" fill="#98eacb" shape-rendering="crispEdges"/>
<text class="s" x="84" y="415.58" font-size="8.0" text-anchor="end">p 48</text>
<rect x="160.3" y="408.88" width="17.4" height="8.34" fill="#fc6b6f" shape-rendering="crispEdges"/>
<rect x="86.30" y="416.92" width="11.41" height="8.34" fill="#a1ecd1" shape-rendering="crispEdges"/>
<rect x="97.41" y="416.92" width="11.41" height="8.34" fill="#76e1b9" shape-rendering="crispEdges"/>
<rect x="108.52" y="416.92" width="11.41" height="8.34" fill="#adefd6" shape-rendering="crispEdges"/>
<rect x="119.63" y="416.92" width="11.41" height="8.34" fill="#a1ecd1" shape-rendering="crispEdges"/>
<rect x="130.74" y="416.92" width="11.41" height="8.34" fill="#a3edd2" shape-rendering="crispEdges"/>
<rect x="141.85" y="416.92" width="11.41" height="8.34" fill="#94e9c8" shape-rendering="crispEdges"/>
<text class="s" x="84" y="423.62" font-size="8.0" text-anchor="end">p 49</text>
<rect x="160.3" y="416.92" width="17.4" height="8.34" fill="#d6fcbf" shape-rendering="crispEdges"/>
<rect x="86.30" y="424.96" width="11.41" height="8.34" fill="#a1ecd1" shape-rendering="crispEdges"/>
<rect x="97.41" y="424.96" width="11.41" height="8.34" fill="#7ce2bc" shape-rendering="crispEdges"/>
<rect x="108.52" y="424.96" width="11.41" height="8.34" fill="#9feccf" shape-rendering="crispEdges"/>
<rect x="119.63" y="424.96" width="11.41" height="8.34" fill="#5ed9a9" shape-rendering="crispEdges"/>
<rect x="130.74" y="424.96" width="11.41" height="8.34" fill="#a3edd2" shape-rendering="crispEdges"/>
<rect x="141.85" y="424.96" width="11.41" height="8.34" fill="#94e9c8" shape-rendering="crispEdges"/>
<text class="s" x="84" y="431.66" font-size="8.0" text-anchor="end">p 50</text>
<rect x="160.3" y="424.96" width="17.4" height="8.34" fill="#d6fcbf" shape-rendering="crispEdges"/>
<rect x="86.30" y="433.00" width="11.41" height="8.34" fill="#a3edd2" shape-rendering="crispEdges"/>
<rect x="97.41" y="433.00" width="11.41" height="8.34" fill="#74e0b8" shape-rendering="crispEdges"/>
<rect x="108.52" y="433.00" width="11.41" height="8.34" fill="#eefdf7" shape-rendering="crispEdges"/>
<rect x="119.63" y="433.00" width="11.41" height="8.34" fill="#eefdf7" shape-rendering="crispEdges"/>
<rect x="130.74" y="433.00" width="11.41" height="8.34" fill="#a3edd2" shape-rendering="crispEdges"/>
<rect x="141.85" y="433.00" width="11.41" height="8.34" fill="#94e9c8" shape-rendering="crispEdges"/>
<text class="s" x="84" y="439.70" font-size="8.0" text-anchor="end">p 51</text>
<rect x="160.3" y="433.00" width="17.4" height="8.34" fill="#d6fcbf" shape-rendering="crispEdges"/>
<rect x="86.30" y="441.04" width="11.41" height="8.34" fill="#e3faf0" shape-rendering="crispEdges"/>
<rect x="97.41" y="441.04" width="11.41" height="8.34" fill="#a3edd2" shape-rendering="crispEdges"/>
<rect x="108.52" y="441.04" width="11.41" height="8.34" fill="#ffffff" shape-rendering="crispEdges"/>
<rect x="119.63" y="441.04" width="11.41" height="8.34" fill="#eefdf7" shape-rendering="crispEdges"/>
<rect x="130.74" y="441.04" width="11.41" height="8.34" fill="#a3edd2" shape-rendering="crispEdges"/>
<rect x="141.85" y="441.04" width="11.41" height="8.34" fill="#94e9c8" shape-rendering="crispEdges"/>
<text class="s" x="84" y="447.74" font-size="8.0" text-anchor="end">p 52</text>
<rect x="160.3" y="441.04" width="17.4" height="8.34" fill="#d6fcbf" shape-rendering="crispEdges"/>
<rect x="86.30" y="449.08" width="11.41" height="8.34" fill="#9feccf" shape-rendering="crispEdges"/>
<rect x="97.41" y="449.08" width="11.41" height="8.34" fill="#76e1b9" shape-rendering="crispEdges"/>
<rect x="108.52" y="449.08" width="11.41" height="8.34" fill="#eefdf7" shape-rendering="crispEdges"/>
<rect x="119.63" y="449.08" width="11.41" height="8.34" fill="#eefdf7" shape-rendering="crispEdges"/>
<rect x="130.74" y="449.08" width="11.41" height="8.34" fill="#cbf5e4" shape-rendering="crispEdges"/>
<rect x="141.85" y="449.08" width="11.41" height="8.34" fill="#a3edd2" shape-rendering="crispEdges"/>
<text class="s" x="84" y="455.78" font-size="8.0" text-anchor="end">p 53</text>
<rect x="160.3" y="449.08" width="17.4" height="8.34" fill="#d6fcbf" shape-rendering="crispEdges"/>
<rect x="86.30" y="457.12" width="11.41" height="8.34" fill="#a3edd2" shape-rendering="crispEdges"/>
<rect x="97.41" y="457.12" width="11.41" height="8.34" fill="#5cd8a7" shape-rendering="crispEdges"/>
<rect x="108.52" y="457.12" width="11.41" height="8.34" fill="#eefdf7" shape-rendering="crispEdges"/>
<rect x="119.63" y="457.12" width="11.41" height="8.34" fill="#eefdf7" shape-rendering="crispEdges"/>
<rect x="130.74" y="457.12" width="11.41" height="8.34" fill="#a3edd2" shape-rendering="crispEdges"/>
<rect x="141.85" y="457.12" width="11.41" height="8.34" fill="#b0f0d8" shape-rendering="crispEdges"/>
<text class="s" x="84" y="463.82" font-size="8.0" text-anchor="end">p 54</text>
<rect x="160.3" y="457.12" width="17.4" height="8.34" fill="#d6fcbf" shape-rendering="crispEdges"/>
<rect x="86.30" y="465.16" width="11.41" height="8.34" fill="#e5faf2" shape-rendering="crispEdges"/>
<rect x="97.41" y="465.16" width="11.41" height="8.34" fill="#aaeed5" shape-rendering="crispEdges"/>
<rect x="108.52" y="465.16" width="11.41" height="8.34" fill="#a3edd2" shape-rendering="crispEdges"/>
<rect x="119.63" y="465.16" width="11.41" height="8.34" fill="#8fe8c5" shape-rendering="crispEdges"/>
<rect x="130.74" y="465.16" width="11.41" height="8.34" fill="#a3edd2" shape-rendering="crispEdges"/>
<rect x="141.85" y="465.16" width="11.41" height="8.34" fill="#9feccf" shape-rendering="crispEdges"/>
<text class="s" x="84" y="471.86" font-size="8.0" text-anchor="end">p 55</text>
<rect x="160.3" y="465.16" width="17.4" height="8.34" fill="#d6fcbf" shape-rendering="crispEdges"/>
<rect x="86.30" y="473.20" width="11.41" height="8.34" fill="#eefdf7" shape-rendering="crispEdges"/>
<rect x="97.41" y="473.20" width="11.41" height="8.34" fill="#eefdf7" shape-rendering="crispEdges"/>
<rect x="108.52" y="473.20" width="11.41" height="8.34" fill="#eefdf7" shape-rendering="crispEdges"/>
<rect x="119.63" y="473.20" width="11.41" height="8.34" fill="#eefdf7" shape-rendering="crispEdges"/>
<rect x="130.74" y="473.20" width="11.41" height="8.34" fill="#a3edd2" shape-rendering="crispEdges"/>
<rect x="141.85" y="473.20" width="11.41" height="8.34" fill="#98eacb" shape-rendering="crispEdges"/>
<text class="s" x="84" y="479.90" font-size="8.0" text-anchor="end">p 56</text>
<rect x="160.3" y="473.20" width="17.4" height="8.34" fill="#fc6b6f" shape-rendering="crispEdges"/>
<rect x="86.30" y="481.24" width="11.41" height="8.34" fill="#eefdf7" shape-rendering="crispEdges"/>
<rect x="97.41" y="481.24" width="11.41" height="8.34" fill="#eefdf7" shape-rendering="crispEdges"/>
<rect x="108.52" y="481.24" width="11.41" height="8.34" fill="#eefdf7" shape-rendering="crispEdges"/>
<rect x="119.63" y="481.24" width="11.41" height="8.34" fill="#eefdf7" shape-rendering="crispEdges"/>
<rect x="130.74" y="481.24" width="11.41" height="8.34" fill="#a3edd2" shape-rendering="crispEdges"/>
<rect x="141.85" y="481.24" width="11.41" height="8.34" fill="#98eacb" shape-rendering="crispEdges"/>
<text class="s" x="84" y="487.94" font-size="8.0" text-anchor="end">p 57</text>
<rect x="160.3" y="481.24" width="17.4" height="8.34" fill="#fc6b6f" shape-rendering="crispEdges"/>
<rect x="86.30" y="489.28" width="11.41" height="8.34" fill="#eefdf7" shape-rendering="crispEdges"/>
<rect x="97.41" y="489.28" width="11.41" height="8.34" fill="#eefdf7" shape-rendering="crispEdges"/>
<rect x="108.52" y="489.28" width="11.41" height="8.34" fill="#eefdf7" shape-rendering="crispEdges"/>
<rect x="119.63" y="489.28" width="11.41" height="8.34" fill="#eefdf7" shape-rendering="crispEdges"/>
<rect x="130.74" y="489.28" width="11.41" height="8.34" fill="#a3edd2" shape-rendering="crispEdges"/>
<rect x="141.85" y="489.28" width="11.41" height="8.34" fill="#98eacb" shape-rendering="crispEdges"/>
<text class="s" x="84" y="495.98" font-size="8.0" text-anchor="end">p 58</text>
<rect x="160.3" y="489.28" width="17.4" height="8.34" fill="#fc6b6f" shape-rendering="crispEdges"/>
<rect x="86.30" y="497.32" width="11.41" height="8.34" fill="#eefdf7" shape-rendering="crispEdges"/>
<rect x="97.41" y="497.32" width="11.41" height="8.34" fill="#eefdf7" shape-rendering="crispEdges"/>
<rect x="108.52" y="497.32" width="11.41" height="8.34" fill="#eefdf7" shape-rendering="crispEdges"/>
<rect x="119.63" y="497.32" width="11.41" height="8.34" fill="#eefdf7" shape-rendering="crispEdges"/>
<rect x="130.74" y="497.32" width="11.41" height="8.34" fill="#a3edd2" shape-rendering="crispEdges"/>
<rect x="141.85" y="497.32" width="11.41" height="8.34" fill="#9aebcc" shape-rendering="crispEdges"/>
<text class="s" x="84" y="504.02" font-size="8.0" text-anchor="end">p 59</text>
<rect x="160.3" y="497.32" width="17.4" height="8.34" fill="#fc6b6f" shape-rendering="crispEdges"/>
<rect x="86.30" y="505.36" width="11.41" height="8.34" fill="#eefdf7" shape-rendering="crispEdges"/>
<rect x="97.41" y="505.36" width="11.41" height="8.34" fill="#eefdf7" shape-rendering="crispEdges"/>
<rect x="108.52" y="505.36" width="11.41" height="8.34" fill="#eefdf7" shape-rendering="crispEdges"/>
<rect x="119.63" y="505.36" width="11.41" height="8.34" fill="#eefdf7" shape-rendering="crispEdges"/>
<rect x="130.74" y="505.36" width="11.41" height="8.34" fill="#a3edd2" shape-rendering="crispEdges"/>
<rect x="141.85" y="505.36" width="11.41" height="8.34" fill="#9aebcc" shape-rendering="crispEdges"/>
<text class="s" x="84" y="512.06" font-size="8.0" text-anchor="end">p 60</text>
<rect x="160.3" y="505.36" width="17.4" height="8.34" fill="#fc6b6f" shape-rendering="crispEdges"/>
<rect x="86.30" y="513.40" width="11.41" height="8.34" fill="#eefdf7" shape-rendering="crispEdges"/>
<rect x="97.41" y="513.40" width="11.41" height="8.34" fill="#eefdf7" shape-rendering="crispEdges"/>
<rect x="108.52" y="513.40" width="11.41" height="8.34" fill="#eefdf7" shape-rendering="crispEdges"/>
<rect x="119.63" y="513.40" width="11.41" height="8.34" fill="#eefdf7" shape-rendering="crispEdges"/>
<rect x="130.74" y="513.40" width="11.41" height="8.34" fill="#a3edd2" shape-rendering="crispEdges"/>
<rect x="141.85" y="513.40" width="11.41" height="8.34" fill="#98eacb" shape-rendering="crispEdges"/>
<text class="s" x="84" y="520.10" font-size="8.0" text-anchor="end">p 61</text>
<rect x="160.3" y="513.40" width="17.4" height="8.34" fill="#fc6b6f" shape-rendering="crispEdges"/>
<rect x="86.30" y="521.44" width="11.41" height="8.34" fill="#eefdf7" shape-rendering="crispEdges"/>
<rect x="97.41" y="521.44" width="11.41" height="8.34" fill="#eefdf7" shape-rendering="crispEdges"/>
<rect x="108.52" y="521.44" width="11.41" height="8.34" fill="#eefdf7" shape-rendering="crispEdges"/>
<rect x="119.63" y="521.44" width="11.41" height="8.34" fill="#eefdf7" shape-rendering="crispEdges"/>
<rect x="130.74" y="521.44" width="11.41" height="8.34" fill="#a3edd2" shape-rendering="crispEdges"/>
<rect x="141.85" y="521.44" width="11.41" height="8.34" fill="#98eacb" shape-rendering="crispEdges"/>
<text class="s" x="84" y="528.14" font-size="8.0" text-anchor="end">p 62</text>
<rect x="160.3" y="521.44" width="17.4" height="8.34" fill="#fc6b6f" shape-rendering="crispEdges"/>
<rect x="86.30" y="529.48" width="11.41" height="8.34" fill="#eefdf7" shape-rendering="crispEdges"/>
<rect x="97.41" y="529.48" width="11.41" height="8.34" fill="#eefdf7" shape-rendering="crispEdges"/>
<rect x="108.52" y="529.48" width="11.41" height="8.34" fill="#eefdf7" shape-rendering="crispEdges"/>
<rect x="119.63" y="529.48" width="11.41" height="8.34" fill="#eefdf7" shape-rendering="crispEdges"/>
<rect x="130.74" y="529.48" width="11.41" height="8.34" fill="#eefdf7" shape-rendering="crispEdges"/>
<rect x="141.85" y="529.48" width="11.41" height="8.34" fill="#eefdf7" shape-rendering="crispEdges"/>
<text class="s" x="84" y="536.18" font-size="8.0" text-anchor="end">Neg Ctrl</text>
<rect x="160.3" y="529.48" width="17.4" height="8.34" fill="#fc6b6f" shape-rendering="crispEdges"/>
<rect x="86.30" y="537.52" width="11.41" height="8.34" fill="#a3edd2" shape-rendering="crispEdges"/>
<rect x="97.41" y="537.52" width="11.41" height="8.34" fill="#3ecf96" shape-rendering="crispEdges"/>
<rect x="108.52" y="537.52" width="11.41" height="8.34" fill="#a3edd2" shape-rendering="crispEdges"/>
<rect x="119.63" y="537.52" width="11.41" height="8.34" fill="#5cd8a7" shape-rendering="crispEdges"/>
<rect x="130.74" y="537.52" width="11.41" height="8.34" fill="#eefdf7" shape-rendering="crispEdges"/>
<rect x="141.85" y="537.52" width="11.41" height="8.34" fill="#dcf8ec" shape-rendering="crispEdges"/>
<text class="s" x="84" y="544.22" font-size="8.0" text-anchor="end">Pos Ctrl</text>
<rect x="160.3" y="537.52" width="17.4" height="8.34" fill="#d6fcbf" shape-rendering="crispEdges"/>
<text class="s" transform="translate(94.1,556.9) rotate(-45)" font-size="7.3" text-anchor="end">WT</text>
<text class="s" transform="translate(105.9,556.9) rotate(-45)" font-size="7.3" text-anchor="end">Mod</text>
<text class="s" transform="translate(115.8,556.9) rotate(-45)" font-size="7.3" text-anchor="end">WT</text>
<text class="s" transform="translate(127.6,556.9) rotate(-45)" font-size="7.3" text-anchor="end">Mod</text>
<text class="s" transform="translate(138.1,556.9) rotate(-45)" font-size="7.3" text-anchor="end">WT</text>
<text class="s" transform="translate(150.5,556.9) rotate(-45)" font-size="7.3" text-anchor="end">Mod</text>
<line x1="81.8" y1="570.6" x2="97.6" y2="570.6" stroke="#666" stroke-width="0.8"/>
<text class="s" x="88.9" y="580.6" font-size="7.8" text-anchor="middle">N</text>
<line x1="104.2" y1="570.6" x2="119.9" y2="570.6" stroke="#666" stroke-width="0.8"/>
<text class="s" x="111" y="580.6" font-size="7.8" text-anchor="middle">E</text>
<line x1="130.5" y1="570.6" x2="146" y2="570.6" stroke="#666" stroke-width="0.8"/>
<text class="s" x="137" y="580.6" font-size="7.8" text-anchor="middle">P</text>
<text x="229.3" y="11.8" font-size="14.5" font-weight="bold">b</text>
<rect x="228.8" y="28.5" width="6.3" height="520.5" fill="url(#gb)"/>
<text x="222.3" y="32.8" font-size="10" text-anchor="end">9</text>
<text x="222.3" y="90.6" font-size="10" text-anchor="end">8</text>
<text x="222.3" y="148.4" font-size="10" text-anchor="end">7</text>
<text x="222.3" y="206.2" font-size="10" text-anchor="end">6</text>
<text x="222.3" y="264.0" font-size="10" text-anchor="end">5</text>
<text x="222.3" y="321.8" font-size="10" text-anchor="end">4</text>
<text x="222.3" y="379.6" font-size="10" text-anchor="end">3</text>
<text x="222.3" y="437.4" font-size="10" text-anchor="end">2</text>
<text x="222.3" y="495.2" font-size="10" text-anchor="end">1</text>
<text x="222.3" y="553.0" font-size="10" text-anchor="end">0</text>
<text transform="translate(208.2,241.8) rotate(-90)" font-size="10.2" text-anchor="middle">Fold (normalized to NTC)</text>
<rect x="391.9" y="27.7" width="17.1" height="520.3" fill="#efefef"/>
<rect x="256.80" y="27.70" width="17.02" height="8.69" fill="#fffadc" shape-rendering="crispEdges"/>
<rect x="273.52" y="27.70" width="17.02" height="8.69" fill="#fffadc" shape-rendering="crispEdges"/>
<rect x="290.24" y="27.70" width="17.02" height="8.69" fill="#fffadc" shape-rendering="crispEdges"/>
<rect x="306.96" y="27.70" width="17.02" height="8.69" fill="#fffadc" shape-rendering="crispEdges"/>
<text class="s" x="254.3" y="34.60" font-size="8.4" text-anchor="end">p 01</text>
<rect x="338.2" y="27.70" width="16.9" height="8.69" fill="#b291ea" shape-rendering="crispEdges"/>
<text class="s" x="400.5" y="34.90" font-size="8.3" text-anchor="middle">37.7</text>
<rect x="256.80" y="36.09" width="17.02" height="8.69" fill="#fffadc" shape-rendering="crispEdges"/>
<rect x="273.52" y="36.09" width="17.02" height="8.69" fill="#fffadc" shape-rendering="crispEdges"/>
<rect x="290.24" y="36.09" width="17.02" height="8.69" fill="#fffadc" shape-rendering="crispEdges"/>
<rect x="306.96" y="36.09" width="17.02" height="8.69" fill="#fffadc" shape-rendering="crispEdges"/>
<text class="s" x="254.3" y="42.99" font-size="8.4" text-anchor="end">p 02</text>
<rect x="338.2" y="36.09" width="16.9" height="8.69" fill="#fc6b6f" shape-rendering="crispEdges"/>
<text class="s" x="400.5" y="43.29" font-size="8.3" text-anchor="middle">U</text>
<rect x="256.80" y="44.48" width="17.02" height="8.69" fill="#fffadc" shape-rendering="crispEdges"/>
<rect x="273.52" y="44.48" width="17.02" height="8.69" fill="#fffadc" shape-rendering="crispEdges"/>
<rect x="290.24" y="44.48" width="17.02" height="8.69" fill="#fffadc" shape-rendering="crispEdges"/>
<rect x="306.96" y="44.48" width="17.02" height="8.69" fill="#fffadc" shape-rendering="crispEdges"/>
<text class="s" x="254.3" y="51.38" font-size="8.4" text-anchor="end">p 03</text>
<rect x="338.2" y="44.48" width="16.9" height="8.69" fill="#fc6b6f" shape-rendering="crispEdges"/>
<text class="s" x="400.5" y="51.68" font-size="8.3" text-anchor="middle">U</text>
<rect x="256.80" y="52.87" width="17.02" height="8.69" fill="#fdd3a8" shape-rendering="crispEdges"/>
<rect x="273.52" y="52.87" width="17.02" height="8.69" fill="#fdd5ab" shape-rendering="crispEdges"/>
<rect x="290.24" y="52.87" width="17.02" height="8.69" fill="#fdd5ab" shape-rendering="crispEdges"/>
<rect x="306.96" y="52.87" width="17.02" height="8.69" fill="#fddcb5" shape-rendering="crispEdges"/>
<text class="s" x="254.3" y="59.77" font-size="8.4" text-anchor="end">p 04</text>
<rect x="338.2" y="52.87" width="16.9" height="8.69" fill="#d6fcbf" shape-rendering="crispEdges"/>
<text class="s" x="400.5" y="60.07" font-size="8.3" text-anchor="middle">32.8</text>
<rect x="256.80" y="61.26" width="17.02" height="8.69" fill="#fdd3a8" shape-rendering="crispEdges"/>
<rect x="273.52" y="61.26" width="17.02" height="8.69" fill="#fdd0a5" shape-rendering="crispEdges"/>
<rect x="290.24" y="61.26" width="17.02" height="8.69" fill="#fdd3a8" shape-rendering="crispEdges"/>
<rect x="306.96" y="61.26" width="17.02" height="8.69" fill="#fdd5ab" shape-rendering="crispEdges"/>
<text class="s" x="254.3" y="68.16" font-size="8.4" text-anchor="end">p 05</text>
<rect x="338.2" y="61.26" width="16.9" height="8.69" fill="#d6fcbf" shape-rendering="crispEdges"/>
<text class="s" x="400.5" y="68.46" font-size="8.3" text-anchor="middle">16.7</text>
<rect x="256.80" y="69.65" width="17.02" height="8.69" fill="#fdd3a8" shape-rendering="crispEdges"/>
<rect x="273.52" y="69.65" width="17.02" height="8.69" fill="#fdd0a5" shape-rendering="crispEdges"/>
<rect x="290.24" y="69.65" width="17.02" height="8.69" fill="#fffadc" shape-rendering="crispEdges"/>
<rect x="306.96" y="69.65" width="17.02" height="8.69" fill="#fffadc" shape-rendering="crispEdges"/>
<text class="s" x="254.3" y="76.55" font-size="8.4" text-anchor="end">p 06</text>
<rect x="338.2" y="69.65" width="16.9" height="8.69" fill="#d6fcbf" shape-rendering="crispEdges"/>
<text class="s" x="400.5" y="76.85" font-size="8.3" text-anchor="middle">36.9</text>
<rect x="256.80" y="78.04" width="17.02" height="8.69" fill="#fdd3a8" shape-rendering="crispEdges"/>
<rect x="273.52" y="78.04" width="17.02" height="8.69" fill="#fdd0a5" shape-rendering="crispEdges"/>
<rect x="290.24" y="78.04" width="17.02" height="8.69" fill="#fffadc" shape-rendering="crispEdges"/>
<rect x="306.96" y="78.04" width="17.02" height="8.69" fill="#fdd4a9" shape-rendering="crispEdges"/>
<text class="s" x="254.3" y="84.94" font-size="8.4" text-anchor="end">p 07</text>
<rect x="338.2" y="78.04" width="16.9" height="8.69" fill="#d6fcbf" shape-rendering="crispEdges"/>
<text class="s" x="400.5" y="85.24" font-size="8.3" text-anchor="middle">32.0</text>
<rect x="256.80" y="86.43" width="17.02" height="8.69" fill="#fdd4a9" shape-rendering="crispEdges"/>
<rect x="273.52" y="86.43" width="17.02" height="8.69" fill="#fddcb5" shape-rendering="crispEdges"/>
<rect x="290.24" y="86.43" width="17.02" height="8.69" fill="#fdd6ac" shape-rendering="crispEdges"/>
<rect x="306.96" y="86.43" width="17.02" height="8.69" fill="#fdd5ab" shape-rendering="crispEdges"/>
<text class="s" x="254.3" y="93.33" font-size="8.4" text-anchor="end">p 08</text>
<rect x="338.2" y="86.43" width="16.9" height="8.69" fill="#d6fcbf" shape-rendering="crispEdges"/>
<text class="s" x="400.5" y="93.63" font-size="8.3" text-anchor="middle">30.4</text>
<rect x="256.80" y="94.82" width="17.02" height="8.69" fill="#fdcea4" shape-rendering="crispEdges"/>
<rect x="273.52" y="94.82" width="17.02" height="8.69" fill="#fa8d83" shape-rendering="crispEdges"/>
<rect x="290.24" y="94.82" width="17.02" height="8.69" fill="#fffadc" shape-rendering="crispEdges"/>
<rect x="306.96" y="94.82" width="17.02" height="8.69" fill="#fcb290" shape-rendering="crispEdges"/>
<text class="s" x="254.3" y="101.72" font-size="8.4" text-anchor="end">p 09</text>
<rect x="338.2" y="94.82" width="16.9" height="8.69" fill="#d6fcbf" shape-rendering="crispEdges"/>
<text class="s" x="400.5" y="102.02" font-size="8.3" text-anchor="middle">34.9</text>
<rect x="256.80" y="103.21" width="17.02" height="8.69" fill="#fdd4a9" shape-rendering="crispEdges"/>
<rect x="273.52" y="103.21" width="17.02" height="8.69" fill="#fdd4a9" shape-rendering="crispEdges"/>
<rect x="290.24" y="103.21" width="17.02" height="8.69" fill="#fdd5ab" shape-rendering="crispEdges"/>
<rect x="306.96" y="103.21" width="17.02" height="8.69" fill="#fdd5ab" shape-rendering="crispEdges"/>
<text class="s" x="254.3" y="110.11" font-size="8.4" text-anchor="end">p 10</text>
<rect x="338.2" y="103.21" width="16.9" height="8.69" fill="#d6fcbf" shape-rendering="crispEdges"/>
<text class="s" x="400.5" y="110.41" font-size="8.3" text-anchor="middle">26.2</text>
<rect x="256.80" y="111.60" width="17.02" height="8.69" fill="#fffadc" shape-rendering="crispEdges"/>
<rect x="273.52" y="111.60" width="17.02" height="8.69" fill="#fffadc" shape-rendering="crispEdges"/>
<rect x="290.24" y="111.60" width="17.02" height="8.69" fill="#fffadc" shape-rendering="crispEdges"/>
<rect x="306.96" y="111.60" width="17.02" height="8.69" fill="#fffadc" shape-rendering="crispEdges"/>
<text class="s" x="254.3" y="118.50" font-size="8.4" text-anchor="end">p 11</text>
<rect x="338.2" y="111.60" width="16.9" height="8.69" fill="#fc6b6f" shape-rendering="crispEdges"/>
<text class="s" x="400.5" y="118.80" font-size="8.3" text-anchor="middle">U</text>
<rect x="256.80" y="119.99" width="17.02" height="8.69" fill="#fff0d0" shape-rendering="crispEdges"/>
<rect x="273.52" y="119.99" width="17.02" height="8.69" fill="#fff2d2" shape-rendering="crispEdges"/>
<rect x="290.24" y="119.99" width="17.02" height="8.69" fill="#fffadc" shape-rendering="crispEdges"/>
<rect x="306.96" y="119.99" width="17.02" height="8.69" fill="#fffadc" shape-rendering="crispEdges"/>
<text class="s" x="254.3" y="126.89" font-size="8.4" text-anchor="end">p 12</text>
<rect x="338.2" y="119.99" width="16.9" height="8.69" fill="#ffd5b3" shape-rendering="crispEdges"/>
<text class="s" x="400.5" y="127.19" font-size="8.3" text-anchor="middle">U</text>
<rect x="256.80" y="128.38" width="17.02" height="8.69" fill="#fff0d0" shape-rendering="crispEdges"/>
<rect x="273.52" y="128.38" width="17.02" height="8.69" fill="#fff0d0" shape-rendering="crispEdges"/>
<rect x="290.24" y="128.38" width="17.02" height="8.69" fill="#fddab2" shape-rendering="crispEdges"/>
<rect x="306.96" y="128.38" width="17.02" height="8.69" fill="#fdd0a5" shape-rendering="crispEdges"/>
<text class="s" x="254.3" y="135.28" font-size="8.4" text-anchor="end">p 13</text>
<rect x="338.2" y="128.38" width="16.9" height="8.69" fill="#d6fcbf" shape-rendering="crispEdges"/>
<text class="s" x="400.5" y="135.58" font-size="8.3" text-anchor="middle">27.4</text>
<rect x="256.80" y="136.77" width="17.02" height="8.69" fill="#fccaa1" shape-rendering="crispEdges"/>
<rect x="273.52" y="136.77" width="17.02" height="8.69" fill="#fcc79e" shape-rendering="crispEdges"/>
<rect x="290.24" y="136.77" width="17.02" height="8.69" fill="#fff0d0" shape-rendering="crispEdges"/>
<rect x="306.96" y="136.77" width="17.02" height="8.69" fill="#fff0d0" shape-rendering="crispEdges"/>
<text class="s" x="254.3" y="143.67" font-size="8.4" text-anchor="end">p 14</text>
<rect x="338.2" y="136.77" width="16.9" height="8.69" fill="#d6fcbf" shape-rendering="crispEdges"/>
<text class="s" x="400.5" y="143.97" font-size="8.3" text-anchor="middle">29.6</text>
<rect x="256.80" y="145.16" width="17.02" height="8.69" fill="#fddcb5" shape-rendering="crispEdges"/>
<rect x="273.52" y="145.16" width="17.02" height="8.69" fill="#fddcb5" shape-rendering="crispEdges"/>
<rect x="290.24" y="145.16" width="17.02" height="8.69" fill="#fffadc" shape-rendering="crispEdges"/>
<rect x="306.96" y="145.16" width="17.02" height="8.69" fill="#fdd0a5" shape-rendering="crispEdges"/>
<text class="s" x="254.3" y="152.06" font-size="8.4" text-anchor="end">p 15</text>
<rect x="338.2" y="145.16" width="16.9" height="8.69" fill="#d6fcbf" shape-rendering="crispEdges"/>
<text class="s" x="400.5" y="152.36" font-size="8.3" text-anchor="middle">29.5</text>
<rect x="256.80" y="153.55" width="17.02" height="8.69" fill="#fffadc" shape-rendering="crispEdges"/>
<rect x="273.52" y="153.55" width="17.02" height="8.69" fill="#fffadc" shape-rendering="crispEdges"/>
<rect x="290.24" y="153.55" width="17.02" height="8.69" fill="#fffadc" shape-rendering="crispEdges"/>
<rect x="306.96" y="153.55" width="17.02" height="8.69" fill="#fffadc" shape-rendering="crispEdges"/>
<text class="s" x="254.3" y="160.45" font-size="8.4" text-anchor="end">p 16</text>
<rect x="338.2" y="153.55" width="16.9" height="8.69" fill="#fc6b6f" shape-rendering="crispEdges"/>
<text class="s" x="400.5" y="160.75" font-size="8.3" text-anchor="middle">U</text>
<rect x="256.80" y="161.94" width="17.02" height="8.69" fill="#fffadc" shape-rendering="crispEdges"/>
<rect x="273.52" y="161.94" width="17.02" height="8.69" fill="#fffadc" shape-rendering="crispEdges"/>
<rect x="290.24" y="161.94" width="17.02" height="8.69" fill="#fffadc" shape-rendering="crispEdges"/>
<rect x="306.96" y="161.94" width="17.02" height="8.69" fill="#fffadc" shape-rendering="crispEdges"/>
<text class="s" x="254.3" y="168.84" font-size="8.4" text-anchor="end">p 17</text>
<rect x="338.2" y="161.94" width="16.9" height="8.69" fill="#fc6b6f" shape-rendering="crispEdges"/>
<text class="s" x="400.5" y="169.14" font-size="8.3" text-anchor="middle">U</text>
<rect x="256.80" y="170.33" width="17.02" height="8.69" fill="#fffadc" shape-rendering="crispEdges"/>
<rect x="273.52" y="170.33" width="17.02" height="8.69" fill="#fffadc" shape-rendering="crispEdges"/>
<rect x="290.24" y="170.33" width="17.02" height="8.69" fill="#fffadc" shape-rendering="crispEdges"/>
<rect x="306.96" y="170.33" width="17.02" height="8.69" fill="#fffadc" shape-rendering="crispEdges"/>
<text class="s" x="254.3" y="177.23" font-size="8.4" text-anchor="end">p 18</text>
<rect x="338.2" y="170.33" width="16.9" height="8.69" fill="#fc6b6f" shape-rendering="crispEdges"/>
<text class="s" x="400.5" y="177.53" font-size="8.3" text-anchor="middle">U</text>
<rect x="256.80" y="178.72" width="17.02" height="8.69" fill="#fffadc" shape-rendering="crispEdges"/>
<rect x="273.52" y="178.72" width="17.02" height="8.69" fill="#fffadc" shape-rendering="crispEdges"/>
<rect x="290.24" y="178.72" width="17.02" height="8.69" fill="#fffadc" shape-rendering="crispEdges"/>
<rect x="306.96" y="178.72" width="17.02" height="8.69" fill="#fffadc" shape-rendering="crispEdges"/>
<text class="s" x="254.3" y="185.62" font-size="8.4" text-anchor="end">p 19</text>
<rect x="338.2" y="178.72" width="16.9" height="8.69" fill="#fc6b6f" shape-rendering="crispEdges"/>
<text class="s" x="400.5" y="185.92" font-size="8.3" text-anchor="middle">U</text>
<rect x="256.80" y="187.11" width="17.02" height="8.69" fill="#fffadc" shape-rendering="crispEdges"/>
<rect x="273.52" y="187.11" width="17.02" height="8.69" fill="#fffadc" shape-rendering="crispEdges"/>
<rect x="290.24" y="187.11" width="17.02" height="8.69" fill="#fffadc" shape-rendering="crispEdges"/>
<rect x="306.96" y="187.11" width="17.02" height="8.69" fill="#fffadc" shape-rendering="crispEdges"/>
<text class="s" x="254.3" y="194.01" font-size="8.4" text-anchor="end">p 20</text>
<rect x="338.2" y="187.11" width="16.9" height="8.69" fill="#fc6b6f" shape-rendering="crispEdges"/>
<text class="s" x="400.5" y="194.31" font-size="8.3" text-anchor="middle">U</text>
<rect x="256.80" y="195.50" width="17.02" height="8.69" fill="#fdd5ab" shape-rendering="crispEdges"/>
<rect x="273.52" y="195.50" width="17.02" height="8.69" fill="#fddcb5" shape-rendering="crispEdges"/>
<rect x="290.24" y="195.50" width="17.02" height="8.69" fill="#fdd5ab" shape-rendering="crispEdges"/>
<rect x="306.96" y="195.50" width="17.02" height="8.69" fill="#fdd5ab" shape-rendering="crispEdges"/>
<text class="s" x="254.3" y="202.40" font-size="8.4" text-anchor="end">p 21</text>
<rect x="338.2" y="195.50" width="16.9" height="8.69" fill="#d6fcbf" shape-rendering="crispEdges"/>
<text class="s" x="400.5" y="202.70" font-size="8.3" text-anchor="middle">34.0</text>
<rect x="256.80" y="203.89" width="17.02" height="8.69" fill="#fcc79e" shape-rendering="crispEdges"/>
<rect x="273.52" y="203.89" width="17.02" height="8.69" fill="#fcb08f" shape-rendering="crispEdges"/>
<rect x="290.24" y="203.89" width="17.02" height="8.69" fill="#fdd3a8" shape-rendering="crispEdges"/>
<rect x="306.96" y="203.89" width="17.02" height="8.69" fill="#fdd3a8" shape-rendering="crispEdges"/>
<text class="s" x="254.3" y="210.79" font-size="8.4" text-anchor="end">p 22</text>
<rect x="338.2" y="203.89" width="16.9" height="8.69" fill="#d6fcbf" shape-rendering="crispEdges"/>
<text class="s" x="400.5" y="211.09" font-size="8.3" text-anchor="middle">32.4</text>
<rect x="256.80" y="212.28" width="17.02" height="8.69" fill="#fdd0a5" shape-rendering="crispEdges"/>
<rect x="273.52" y="212.28" width="17.02" height="8.69" fill="#fdd3a8" shape-rendering="crispEdges"/>
<rect x="290.24" y="212.28" width="17.02" height="8.69" fill="#fffadc" shape-rendering="crispEdges"/>
<rect x="306.96" y="212.28" width="17.02" height="8.69" fill="#fffadc" shape-rendering="crispEdges"/>
<text class="s" x="254.3" y="219.18" font-size="8.4" text-anchor="end">p 23</text>
<rect x="338.2" y="212.28" width="16.9" height="8.69" fill="#d6fcbf" shape-rendering="crispEdges"/>
<text class="s" x="400.5" y="219.48" font-size="8.3" text-anchor="middle">27.7</text>
<rect x="256.80" y="220.67" width="17.02" height="8.69" fill="#fffadc" shape-rendering="crispEdges"/>
<rect x="273.52" y="220.67" width="17.02" height="8.69" fill="#fffadc" shape-rendering="crispEdges"/>
<rect x="290.24" y="220.67" width="17.02" height="8.69" fill="#fdd0a5" shape-rendering="crispEdges"/>
<rect x="306.96" y="220.67" width="17.02" height="8.69" fill="#fdcca2" shape-rendering="crispEdges"/>
<text class="s" x="254.3" y="227.57" font-size="8.4" text-anchor="end">p 24</text>
<rect x="338.2" y="220.67" width="16.9" height="8.69" fill="#d6fcbf" shape-rendering="crispEdges"/>
<text class="s" x="400.5" y="227.87" font-size="8.3" text-anchor="middle">37.2</text>
<rect x="256.80" y="229.06" width="17.02" height="8.69" fill="#fdd6ac" shape-rendering="crispEdges"/>
<rect x="273.52" y="229.06" width="17.02" height="8.69" fill="#fdd5ab" shape-rendering="crispEdges"/>
<rect x="290.24" y="229.06" width="17.02" height="8.69" fill="#fffadc" shape-rendering="crispEdges"/>
<rect x="306.96" y="229.06" width="17.02" height="8.69" fill="#fffadc" shape-rendering="crispEdges"/>
<text class="s" x="254.3" y="235.96" font-size="8.4" text-anchor="end">p 25</text>
<rect x="338.2" y="229.06" width="16.9" height="8.69" fill="#d6fcbf" shape-rendering="crispEdges"/>
<text class="s" x="400.5" y="236.26" font-size="8.3" text-anchor="middle">35.7</text>
<rect x="256.80" y="237.45" width="17.02" height="8.69" fill="#fdcca2" shape-rendering="crispEdges"/>
<rect x="273.52" y="237.45" width="17.02" height="8.69" fill="#fcb894" shape-rendering="crispEdges"/>
<rect x="290.24" y="237.45" width="17.02" height="8.69" fill="#fbab8d" shape-rendering="crispEdges"/>
<rect x="306.96" y="237.45" width="17.02" height="8.69" fill="#fdd3a8" shape-rendering="crispEdges"/>
<text class="s" x="254.3" y="244.35" font-size="8.4" text-anchor="end">p 26</text>
<rect x="338.2" y="237.45" width="16.9" height="8.69" fill="#d6fcbf" shape-rendering="crispEdges"/>
<text class="s" x="400.5" y="244.65" font-size="8.3" text-anchor="middle">29.8</text>
<rect x="256.80" y="245.84" width="17.02" height="8.69" fill="#fdd3a8" shape-rendering="crispEdges"/>
<rect x="273.52" y="245.84" width="17.02" height="8.69" fill="#fdd0a5" shape-rendering="crispEdges"/>
<rect x="290.24" y="245.84" width="17.02" height="8.69" fill="#fffadc" shape-rendering="crispEdges"/>
<rect x="306.96" y="245.84" width="17.02" height="8.69" fill="#fffadc" shape-rendering="crispEdges"/>
<text class="s" x="254.3" y="252.74" font-size="8.4" text-anchor="end">p 27</text>
<rect x="338.2" y="245.84" width="16.9" height="8.69" fill="#d6fcbf" shape-rendering="crispEdges"/>
<text class="s" x="400.5" y="253.04" font-size="8.3" text-anchor="middle">35.8</text>
<rect x="256.80" y="254.23" width="17.02" height="8.69" fill="#fcc9a0" shape-rendering="crispEdges"/>
<rect x="273.52" y="254.23" width="17.02" height="8.69" fill="#fdd5ab" shape-rendering="crispEdges"/>
<rect x="290.24" y="254.23" width="17.02" height="8.69" fill="#fdd5ab" shape-rendering="crispEdges"/>
<rect x="306.96" y="254.23" width="17.02" height="8.69" fill="#fdd3a8" shape-rendering="crispEdges"/>
<text class="s" x="254.3" y="261.13" font-size="8.4" text-anchor="end">p 28</text>
<rect x="338.2" y="254.23" width="16.9" height="8.69" fill="#d6fcbf" shape-rendering="crispEdges"/>
<text class="s" x="400.5" y="261.43" font-size="8.3" text-anchor="middle">27.1</text>
<rect x="256.80" y="262.62" width="17.02" height="8.69" fill="#fcc59d" shape-rendering="crispEdges"/>
<rect x="273.52" y="262.62" width="17.02" height="8.69" fill="#fdcca2" shape-rendering="crispEdges"/>
<rect x="290.24" y="262.62" width="17.02" height="8.69" fill="#fdd0a5" shape-rendering="crispEdges"/>
<rect x="306.96" y="262.62" width="17.02" height="8.69" fill="#fcbd97" shape-rendering="crispEdges"/>
<text class="s" x="254.3" y="269.52" font-size="8.4" text-anchor="end">p 29</text>
<rect x="338.2" y="262.62" width="16.9" height="8.69" fill="#d6fcbf" shape-rendering="crispEdges"/>
<text class="s" x="400.5" y="269.82" font-size="8.3" text-anchor="middle">23.9</text>
<rect x="256.80" y="271.01" width="17.02" height="8.69" fill="#fcc9a0" shape-rendering="crispEdges"/>
<rect x="273.52" y="271.01" width="17.02" height="8.69" fill="#fdcca2" shape-rendering="crispEdges"/>
<rect x="290.24" y="271.01" width="17.02" height="8.69" fill="#fcba95" shape-rendering="crispEdges"/>
<rect x="306.96" y="271.01" width="17.02" height="8.69" fill="#fdcca2" shape-rendering="crispEdges"/>
<text class="s" x="254.3" y="277.91" font-size="8.4" text-anchor="end">p 30</text>
<rect x="338.2" y="271.01" width="16.9" height="8.69" fill="#d6fcbf" shape-rendering="crispEdges"/>
<text class="s" x="400.5" y="278.21" font-size="8.3" text-anchor="middle">33.5</text>
<rect x="256.80" y="279.40" width="17.02" height="8.69" fill="#fffadc" shape-rendering="crispEdges"/>
<rect x="273.52" y="279.40" width="17.02" height="8.69" fill="#fffadc" shape-rendering="crispEdges"/>
<rect x="290.24" y="279.40" width="17.02" height="8.69" fill="#fffadc" shape-rendering="crispEdges"/>
<rect x="306.96" y="279.40" width="17.02" height="8.69" fill="#fffadc" shape-rendering="crispEdges"/>
<text class="s" x="254.3" y="286.30" font-size="8.4" text-anchor="end">p 31</text>
<rect x="338.2" y="279.40" width="16.9" height="8.69" fill="#fc6b6f" shape-rendering="crispEdges"/>
<text class="s" x="400.5" y="286.60" font-size="8.3" text-anchor="middle">U</text>
<rect x="256.80" y="287.79" width="17.02" height="8.69" fill="#fffadc" shape-rendering="crispEdges"/>
<rect x="273.52" y="287.79" width="17.02" height="8.69" fill="#fffadc" shape-rendering="crispEdges"/>
<rect x="290.24" y="287.79" width="17.02" height="8.69" fill="#fffadc" shape-rendering="crispEdges"/>
<rect x="306.96" y="287.79" width="17.02" height="8.69" fill="#fffadc" shape-rendering="crispEdges"/>
<text class="s" x="254.3" y="294.69" font-size="8.4" text-anchor="end">p 32</text>
<rect x="338.2" y="287.79" width="16.9" height="8.69" fill="#fc6b6f" shape-rendering="crispEdges"/>
<text class="s" x="400.5" y="294.99" font-size="8.3" text-anchor="middle">U</text>
<rect x="256.80" y="296.18" width="17.02" height="8.69" fill="#fffadc" shape-rendering="crispEdges"/>
<rect x="273.52" y="296.18" width="17.02" height="8.69" fill="#fffadc" shape-rendering="crispEdges"/>
<rect x="290.24" y="296.18" width="17.02" height="8.69" fill="#fffadc" shape-rendering="crispEdges"/>
<rect x="306.96" y="296.18" width="17.02" height="8.69" fill="#fffadc" shape-rendering="crispEdges"/>
<text class="s" x="254.3" y="303.08" font-size="8.4" text-anchor="end">p 33</text>
<rect x="338.2" y="296.18" width="16.9" height="8.69" fill="#fc6b6f" shape-rendering="crispEdges"/>
<text class="s" x="400.5" y="303.38" font-size="8.3" text-anchor="middle">U</text>
<rect x="256.80" y="304.57" width="17.02" height="8.69" fill="#fffadc" shape-rendering="crispEdges"/>
<rect x="273.52" y="304.57" width="17.02" height="8.69" fill="#fffadc" shape-rendering="crispEdges"/>
<rect x="290.24" y="304.57" width="17.02" height="8.69" fill="#fffadc" shape-rendering="crispEdges"/>
<rect x="306.96" y="304.57" width="17.02" height="8.69" fill="#fffadc" shape-rendering="crispEdges"/>
<text class="s" x="254.3" y="311.47" font-size="8.4" text-anchor="end">p 34</text>
<rect x="338.2" y="304.57" width="16.9" height="8.69" fill="#fc6b6f" shape-rendering="crispEdges"/>
<text class="s" x="400.5" y="311.77" font-size="8.3" text-anchor="middle">U</text>
<rect x="256.80" y="312.96" width="17.02" height="8.69" fill="#fffadc" shape-rendering="crispEdges"/>
<rect x="273.52" y="312.96" width="17.02" height="8.69" fill="#fffadc" shape-rendering="crispEdges"/>
<rect x="290.24" y="312.96" width="17.02" height="8.69" fill="#fffadc" shape-rendering="crispEdges"/>
<rect x="306.96" y="312.96" width="17.02" height="8.69" fill="#fffadc" shape-rendering="crispEdges"/>
<text class="s" x="254.3" y="319.86" font-size="8.4" text-anchor="end">p 35</text>
<rect x="338.2" y="312.96" width="16.9" height="8.69" fill="#fc6b6f" shape-rendering="crispEdges"/>
<text class="s" x="400.5" y="320.16" font-size="8.3" text-anchor="middle">U</text>
<rect x="256.80" y="321.35" width="17.02" height="8.69" fill="#fffadc" shape-rendering="crispEdges"/>
<rect x="273.52" y="321.35" width="17.02" height="8.69" fill="#fffadc" shape-rendering="crispEdges"/>
<rect x="290.24" y="321.35" width="17.02" height="8.69" fill="#fffadc" shape-rendering="crispEdges"/>
<rect x="306.96" y="321.35" width="17.02" height="8.69" fill="#fffadc" shape-rendering="crispEdges"/>
<text class="s" x="254.3" y="328.25" font-size="8.4" text-anchor="end">p 36</text>
<rect x="338.2" y="321.35" width="16.9" height="8.69" fill="#fc6b6f" shape-rendering="crispEdges"/>
<text class="s" x="400.5" y="328.55" font-size="8.3" text-anchor="middle">U</text>
<rect x="256.80" y="329.74" width="17.02" height="8.69" fill="#fffadc" shape-rendering="crispEdges"/>
<rect x="273.52" y="329.74" width="17.02" height="8.69" fill="#fffadc" shape-rendering="crispEdges"/>
<rect x="290.24" y="329.74" width="17.02" height="8.69" fill="#fffadc" shape-rendering="crispEdges"/>
<rect x="306.96" y="329.74" width="17.02" height="8.69" fill="#fffadc" shape-rendering="crispEdges"/>
<text class="s" x="254.3" y="336.64" font-size="8.4" text-anchor="end">p 37</text>
<rect x="338.2" y="329.74" width="16.9" height="8.69" fill="#fc6b6f" shape-rendering="crispEdges"/>
<text class="s" x="400.5" y="336.94" font-size="8.3" text-anchor="middle">41.0</text>
<rect x="256.80" y="338.13" width="17.02" height="8.69" fill="#fffadc" shape-rendering="crispEdges"/>
<rect x="273.52" y="338.13" width="17.02" height="8.69" fill="#fffadc" shape-rendering="crispEdges"/>
<rect x="290.24" y="338.13" width="17.02" height="8.69" fill="#fffadc" shape-rendering="crispEdges"/>
<rect x="306.96" y="338.13" width="17.02" height="8.69" fill="#fffadc" shape-rendering="crispEdges"/>
<text class="s" x="254.3" y="345.03" font-size="8.4" text-anchor="end">p 38</text>
<rect x="338.2" y="338.13" width="16.9" height="8.69" fill="#fc6b6f" shape-rendering="crispEdges"/>
<text class="s" x="400.5" y="345.33" font-size="8.3" text-anchor="middle">U</text>
<rect x="256.80" y="346.52" width="17.02" height="8.69" fill="#fffadc" shape-rendering="crispEdges"/>
<rect x="273.52" y="346.52" width="17.02" height="8.69" fill="#fffadc" shape-rendering="crispEdges"/>
<rect x="290.24" y="346.52" width="17.02" height="8.69" fill="#fffadc" shape-rendering="crispEdges"/>
<rect x="306.96" y="346.52" width="17.02" height="8.69" fill="#fffadc" shape-rendering="crispEdges"/>
<text class="s" x="254.3" y="353.42" font-size="8.4" text-anchor="end">p 39</text>
<rect x="338.2" y="346.52" width="16.9" height="8.69" fill="#fc6b6f" shape-rendering="crispEdges"/>
<text class="s" x="400.5" y="353.72" font-size="8.3" text-anchor="middle">U</text>
<rect x="256.80" y="354.91" width="17.02" height="8.69" fill="#fcc9a0" shape-rendering="crispEdges"/>
<rect x="273.52" y="354.91" width="17.02" height="8.69" fill="#fdd5ab" shape-rendering="crispEdges"/>
<rect x="290.24" y="354.91" width="17.02" height="8.69" fill="#fffadc" shape-rendering="crispEdges"/>
<rect x="306.96" y="354.91" width="17.02" height="8.69" fill="#fffadc" shape-rendering="crispEdges"/>
<text class="s" x="254.3" y="361.81" font-size="8.4" text-anchor="end">p 40</text>
<rect x="338.2" y="354.91" width="16.9" height="8.69" fill="#d6fcbf" shape-rendering="crispEdges"/>
<text class="s" x="400.5" y="362.11" font-size="8.3" text-anchor="middle">38.8</text>
<rect x="256.80" y="363.30" width="17.02" height="8.69" fill="#fdd3a8" shape-rendering="crispEdges"/>
<rect x="273.52" y="363.30" width="17.02" height="8.69" fill="#fdd3a8" shape-rendering="crispEdges"/>
<rect x="290.24" y="363.30" width="17.02" height="8.69" fill="#fdd5ab" shape-rendering="crispEdges"/>
<rect x="306.96" y="363.30" width="17.02" height="8.69" fill="#fddab2" shape-rendering="crispEdges"/>
<text class="s" x="254.3" y="370.20" font-size="8.4" text-anchor="end">p 41</text>
<rect x="338.2" y="363.30" width="16.9" height="8.69" fill="#d6fcbf" shape-rendering="crispEdges"/>
<text class="s" x="400.5" y="370.50" font-size="8.3" text-anchor="middle">37.5</text>
<rect x="256.80" y="371.69" width="17.02" height="8.69" fill="#fdd3a8" shape-rendering="crispEdges"/>
<rect x="273.52" y="371.69" width="17.02" height="8.69" fill="#fdd3a8" shape-rendering="crispEdges"/>
<rect x="290.24" y="371.69" width="17.02" height="8.69" fill="#fdd5ab" shape-rendering="crispEdges"/>
<rect x="306.96" y="371.69" width="17.02" height="8.69" fill="#fdd5ab" shape-rendering="crispEdges"/>
<text class="s" x="254.3" y="378.59" font-size="8.4" text-anchor="end">p 42</text>
<rect x="338.2" y="371.69" width="16.9" height="8.69" fill="#d6fcbf" shape-rendering="crispEdges"/>
<text class="s" x="400.5" y="378.89" font-size="8.3" text-anchor="middle">31.8</text>
<rect x="256.80" y="380.08" width="17.02" height="8.69" fill="#fffadc" shape-rendering="crispEdges"/>
<rect x="273.52" y="380.08" width="17.02" height="8.69" fill="#fffadc" shape-rendering="crispEdges"/>
<rect x="290.24" y="380.08" width="17.02" height="8.69" fill="#fffadc" shape-rendering="crispEdges"/>
<rect x="306.96" y="380.08" width="17.02" height="8.69" fill="#fffadc" shape-rendering="crispEdges"/>
<text class="s" x="254.3" y="386.98" font-size="8.4" text-anchor="end">p 43</text>
<rect x="338.2" y="380.08" width="16.9" height="8.69" fill="#fc6b6f" shape-rendering="crispEdges"/>
<text class="s" x="400.5" y="387.28" font-size="8.3" text-anchor="middle">42.2</text>
<rect x="256.80" y="388.47" width="17.02" height="8.69" fill="#fffadc" shape-rendering="crispEdges"/>
<rect x="273.52" y="388.47" width="17.02" height="8.69" fill="#fffadc" shape-rendering="crispEdges"/>
<rect x="290.24" y="388.47" width="17.02" height="8.69" fill="#fffadc" shape-rendering="crispEdges"/>
<rect x="306.96" y="388.47" width="17.02" height="8.69" fill="#fffadc" shape-rendering="crispEdges"/>
<text class="s" x="254.3" y="395.37" font-size="8.4" text-anchor="end">p 44</text>
<rect x="338.2" y="388.47" width="16.9" height="8.69" fill="#fc6b6f" shape-rendering="crispEdges"/>
<text class="s" x="400.5" y="395.67" font-size="8.3" text-anchor="middle">40.9</text>
<rect x="256.80" y="396.86" width="17.02" height="8.69" fill="#fffadc" shape-rendering="crispEdges"/>
<rect x="273.52" y="396.86" width="17.02" height="8.69" fill="#fffadc" shape-rendering="crispEdges"/>
<rect x="290.24" y="396.86" width="17.02" height="8.69" fill="#fffadc" shape-rendering="crispEdges"/>
<rect x="306.96" y="396.86" width="17.02" height="8.69" fill="#fffadc" shape-rendering="crispEdges"/>
<text class="s" x="254.3" y="403.76" font-size="8.4" text-anchor="end">p 45</text>
<rect x="338.2" y="396.86" width="16.9" height="8.69" fill="#fc6b6f" shape-rendering="crispEdges"/>
<text class="s" x="400.5" y="404.06" font-size="8.3" text-anchor="middle">U</text>
<rect x="256.80" y="405.25" width="17.02" height="8.69" fill="#fffadc" shape-rendering="crispEdges"/>
<rect x="273.52" y="405.25" width="17.02" height="8.69" fill="#fffadc" shape-rendering="crispEdges"/>
<rect x="290.24" y="405.25" width="17.02" height="8.69" fill="#fffadc" shape-rendering="crispEdges"/>
<rect x="306.96" y="405.25" width="17.02" height="8.69" fill="#fffadc" shape-rendering="crispEdges"/>
<text class="s" x="254.3" y="412.15" font-size="8.4" text-anchor="end">p 46</text>
<rect x="338.2" y="405.25" width="16.9" height="8.69" fill="#fc6b6f" shape-rendering="crispEdges"/>
<text class="s" x="400.5" y="412.45" font-size="8.3" text-anchor="middle">U</text>
<rect x="256.80" y="413.64" width="17.02" height="8.69" fill="#fffadc" shape-rendering="crispEdges"/>
<rect x="273.52" y="413.64" width="17.02" height="8.69" fill="#fffadc" shape-rendering="crispEdges"/>
<rect x="290.24" y="413.64" width="17.02" height="8.69" fill="#fffadc" shape-rendering="crispEdges"/>
<rect x="306.96" y="413.64" width="17.02" height="8.69" fill="#fffadc" shape-rendering="crispEdges"/>
<text class="s" x="254.3" y="420.54" font-size="8.4" text-anchor="end">p 47</text>
<rect x="338.2" y="413.64" width="16.9" height="8.69" fill="#fc6b6f" shape-rendering="crispEdges"/>
<text class="s" x="400.5" y="420.84" font-size="8.3" text-anchor="middle">U</text>
<rect x="256.80" y="422.03" width="17.02" height="8.69" fill="#fffadc" shape-rendering="crispEdges"/>
<rect x="273.52" y="422.03" width="17.02" height="8.69" fill="#fffadc" shape-rendering="crispEdges"/>
<rect x="290.24" y="422.03" width="17.02" height="8.69" fill="#fffadc" shape-rendering="crispEdges"/>
<rect x="306.96" y="422.03" width="17.02" height="8.69" fill="#fffadc" shape-rendering="crispEdges"/>
<text class="s" x="254.3" y="428.93" font-size="8.4" text-anchor="end">p 48</text>
<rect x="338.2" y="422.03" width="16.9" height="8.69" fill="#fc6b6f" shape-rendering="crispEdges"/>
<text class="s" x="400.5" y="429.23" font-size="8.3" text-anchor="middle">U</text>
<rect x="256.80" y="430.42" width="17.02" height="8.69" fill="#fdd3a8" shape-rendering="crispEdges"/>
<rect x="273.52" y="430.42" width="17.02" height="8.69" fill="#fddcb5" shape-rendering="crispEdges"/>
<rect x="290.24" y="430.42" width="17.02" height="8.69" fill="#fdd0a5" shape-rendering="crispEdges"/>
<rect x="306.96" y="430.42" width="17.02" height="8.69" fill="#fdd1a7" shape-rendering="crispEdges"/>
<text class="s" x="254.3" y="437.32" font-size="8.4" text-anchor="end">p 49</text>
<rect x="338.2" y="430.42" width="16.9" height="8.69" fill="#d6fcbf" shape-rendering="crispEdges"/>
<text class="s" x="400.5" y="437.62" font-size="8.3" text-anchor="middle">35.9</text>
<rect x="256.80" y="438.81" width="17.02" height="8.69" fill="#fa9785" shape-rendering="crispEdges"/>
<rect x="273.52" y="438.81" width="17.02" height="8.69" fill="#f98080" shape-rendering="crispEdges"/>
<rect x="290.24" y="438.81" width="17.02" height="8.69" fill="#fdd0a5" shape-rendering="crispEdges"/>
<rect x="306.96" y="438.81" width="17.02" height="8.69" fill="#fdd0a5" shape-rendering="crispEdges"/>
<text class="s" x="254.3" y="445.71" font-size="8.4" text-anchor="end">p 50</text>
<rect x="338.2" y="438.81" width="16.9" height="8.69" fill="#d6fcbf" shape-rendering="crispEdges"/>
<text class="s" x="400.5" y="446.01" font-size="8.3" text-anchor="middle">27.2</text>
<rect x="256.80" y="447.20" width="17.02" height="8.69" fill="#fdd3a8" shape-rendering="crispEdges"/>
<rect x="273.52" y="447.20" width="17.02" height="8.69" fill="#fdd3a8" shape-rendering="crispEdges"/>
<rect x="290.24" y="447.20" width="17.02" height="8.69" fill="#fffadc" shape-rendering="crispEdges"/>
<rect x="306.96" y="447.20" width="17.02" height="8.69" fill="#fffadc" shape-rendering="crispEdges"/>
<text class="s" x="254.3" y="454.10" font-size="8.4" text-anchor="end">p 51</text>
<rect x="338.2" y="447.20" width="16.9" height="8.69" fill="#d6fcbf" shape-rendering="crispEdges"/>
<text class="s" x="400.5" y="454.40" font-size="8.3" text-anchor="middle">34.2</text>
<rect x="256.80" y="455.59" width="17.02" height="8.69" fill="#fff0d0" shape-rendering="crispEdges"/>
<rect x="273.52" y="455.59" width="17.02" height="8.69" fill="#fee6c2" shape-rendering="crispEdges"/>
<rect x="290.24" y="455.59" width="17.02" height="8.69" fill="#fffadc" shape-rendering="crispEdges"/>
<rect x="306.96" y="455.59" width="17.02" height="8.69" fill="#fffadc" shape-rendering="crispEdges"/>
<text class="s" x="254.3" y="462.49" font-size="8.4" text-anchor="end">p 52</text>
<rect x="338.2" y="455.59" width="16.9" height="8.69" fill="#d6fcbf" shape-rendering="crispEdges"/>
<text class="s" x="400.5" y="462.79" font-size="8.3" text-anchor="middle">14.9</text>
<rect x="256.80" y="463.98" width="17.02" height="8.69" fill="#fdd5ab" shape-rendering="crispEdges"/>
<rect x="273.52" y="463.98" width="17.02" height="8.69" fill="#fdd3a8" shape-rendering="crispEdges"/>
<rect x="290.24" y="463.98" width="17.02" height="8.69" fill="#fffadc" shape-rendering="crispEdges"/>
<rect x="306.96" y="463.98" width="17.02" height="8.69" fill="#fffadc" shape-rendering="crispEdges"/>
<text class="s" x="254.3" y="470.88" font-size="8.4" text-anchor="end">p 53</text>
<rect x="338.2" y="463.98" width="16.9" height="8.69" fill="#d6fcbf" shape-rendering="crispEdges"/>
<text class="s" x="400.5" y="471.18" font-size="8.3" text-anchor="middle">27.1</text>
<rect x="256.80" y="472.37" width="17.02" height="8.69" fill="#fdcca2" shape-rendering="crispEdges"/>
<rect x="273.52" y="472.37" width="17.02" height="8.69" fill="#fdd9b1" shape-rendering="crispEdges"/>
<rect x="290.24" y="472.37" width="17.02" height="8.69" fill="#fffadc" shape-rendering="crispEdges"/>
<rect x="306.96" y="472.37" width="17.02" height="8.69" fill="#fffadc" shape-rendering="crispEdges"/>
<text class="s" x="254.3" y="479.27" font-size="8.4" text-anchor="end">p 54</text>
<rect x="338.2" y="472.37" width="16.9" height="8.69" fill="#d6fcbf" shape-rendering="crispEdges"/>
<text class="s" x="400.5" y="479.57" font-size="8.3" text-anchor="middle">38.0</text>
<rect x="256.80" y="480.76" width="17.02" height="8.69" fill="#fffadc" shape-rendering="crispEdges"/>
<rect x="273.52" y="480.76" width="17.02" height="8.69" fill="#fff2d2" shape-rendering="crispEdges"/>
<rect x="290.24" y="480.76" width="17.02" height="8.69" fill="#fdd0a5" shape-rendering="crispEdges"/>
<rect x="306.96" y="480.76" width="17.02" height="8.69" fill="#fddcb5" shape-rendering="crispEdges"/>
<text class="s" x="254.3" y="487.66" font-size="8.4" text-anchor="end">p 55</text>
<rect x="338.2" y="480.76" width="16.9" height="8.69" fill="#d6fcbf" shape-rendering="crispEdges"/>
<text class="s" x="400.5" y="487.96" font-size="8.3" text-anchor="middle">34.7</text>
<rect x="256.80" y="489.15" width="17.02" height="8.69" fill="#fffadc" shape-rendering="crispEdges"/>
<rect x="273.52" y="489.15" width="17.02" height="8.69" fill="#fffadc" shape-rendering="crispEdges"/>
<rect x="290.24" y="489.15" width="17.02" height="8.69" fill="#fffadc" shape-rendering="crispEdges"/>
<rect x="306.96" y="489.15" width="17.02" height="8.69" fill="#fffadc" shape-rendering="crispEdges"/>
<text class="s" x="254.3" y="496.05" font-size="8.4" text-anchor="end">p 56</text>
<rect x="338.2" y="489.15" width="16.9" height="8.69" fill="#fc6b6f" shape-rendering="crispEdges"/>
<text class="s" x="400.5" y="496.35" font-size="8.3" text-anchor="middle">U</text>
<rect x="256.80" y="497.54" width="17.02" height="8.69" fill="#fffadc" shape-rendering="crispEdges"/>
<rect x="273.52" y="497.54" width="17.02" height="8.69" fill="#fffadc" shape-rendering="crispEdges"/>
<rect x="290.24" y="497.54" width="17.02" height="8.69" fill="#fffadc" shape-rendering="crispEdges"/>
<rect x="306.96" y="497.54" width="17.02" height="8.69" fill="#fffadc" shape-rendering="crispEdges"/>
<text class="s" x="254.3" y="504.44" font-size="8.4" text-anchor="end">p 57</text>
<rect x="338.2" y="497.54" width="16.9" height="8.69" fill="#fc6b6f" shape-rendering="crispEdges"/>
<text class="s" x="400.5" y="504.74" font-size="8.3" text-anchor="middle">U</text>
<rect x="256.80" y="505.93" width="17.02" height="8.69" fill="#fffadc" shape-rendering="crispEdges"/>
<rect x="273.52" y="505.93" width="17.02" height="8.69" fill="#fffadc" shape-rendering="crispEdges"/>
<rect x="290.24" y="505.93" width="17.02" height="8.69" fill="#fffadc" shape-rendering="crispEdges"/>
<rect x="306.96" y="505.93" width="17.02" height="8.69" fill="#fffadc" shape-rendering="crispEdges"/>
<text class="s" x="254.3" y="512.83" font-size="8.4" text-anchor="end">p 58</text>
<rect x="338.2" y="505.93" width="16.9" height="8.69" fill="#fc6b6f" shape-rendering="crispEdges"/>
<text class="s" x="400.5" y="513.13" font-size="8.3" text-anchor="middle">U</text>
<rect x="256.80" y="514.32" width="17.02" height="8.69" fill="#fffadc" shape-rendering="crispEdges"/>
<rect x="273.52" y="514.32" width="17.02" height="8.69" fill="#fffadc" shape-rendering="crispEdges"/>
<rect x="290.24" y="514.32" width="17.02" height="8.69" fill="#fffadc" shape-rendering="crispEdges"/>
<rect x="306.96" y="514.32" width="17.02" height="8.69" fill="#fffadc" shape-rendering="crispEdges"/>
<text class="s" x="254.3" y="521.22" font-size="8.4" text-anchor="end">p 59</text>
<rect x="338.2" y="514.32" width="16.9" height="8.69" fill="#fc6b6f" shape-rendering="crispEdges"/>
<text class="s" x="400.5" y="521.52" font-size="8.3" text-anchor="middle">U</text>
<rect x="256.80" y="522.71" width="17.02" height="8.69" fill="#fffadc" shape-rendering="crispEdges"/>
<rect x="273.52" y="522.71" width="17.02" height="8.69" fill="#fffadc" shape-rendering="crispEdges"/>
<rect x="290.24" y="522.71" width="17.02" height="8.69" fill="#fffadc" shape-rendering="crispEdges"/>
<rect x="306.96" y="522.71" width="17.02" height="8.69" fill="#fffadc" shape-rendering="crispEdges"/>
<text class="s" x="254.3" y="529.61" font-size="8.4" text-anchor="end">p 60</text>
<rect x="338.2" y="522.71" width="16.9" height="8.69" fill="#fc6b6f" shape-rendering="crispEdges"/>
<text class="s" x="400.5" y="529.91" font-size="8.3" text-anchor="middle">U</text>
<rect x="256.80" y="531.10" width="17.02" height="8.69" fill="#fffadc" shape-rendering="crispEdges"/>
<rect x="273.52" y="531.10" width="17.02" height="8.69" fill="#fffadc" shape-rendering="crispEdges"/>
<rect x="290.24" y="531.10" width="17.02" height="8.69" fill="#fffadc" shape-rendering="crispEdges"/>
<rect x="306.96" y="531.10" width="17.02" height="8.69" fill="#fffadc" shape-rendering="crispEdges"/>
<text class="s" x="254.3" y="538.00" font-size="8.4" text-anchor="end">p 61</text>
<rect x="338.2" y="531.10" width="16.9" height="8.69" fill="#fc6b6f" shape-rendering="crispEdges"/>
<text class="s" x="400.5" y="538.30" font-size="8.3" text-anchor="middle">U</text>
<rect x="256.80" y="539.49" width="17.02" height="8.69" fill="#fffadc" shape-rendering="crispEdges"/>
<rect x="273.52" y="539.49" width="17.02" height="8.69" fill="#fffadc" shape-rendering="crispEdges"/>
<rect x="290.24" y="539.49" width="17.02" height="8.69" fill="#fffadc" shape-rendering="crispEdges"/>
<rect x="306.96" y="539.49" width="17.02" height="8.69" fill="#fffadc" shape-rendering="crispEdges"/>
<text class="s" x="254.3" y="546.39" font-size="8.4" text-anchor="end">p 62</text>
<rect x="338.2" y="539.49" width="16.9" height="8.69" fill="#fc6b6f" shape-rendering="crispEdges"/>
<text class="s" x="400.5" y="546.69" font-size="8.3" text-anchor="middle">U</text>
<rect x="363.7" y="27.7" width="16.4" height="520.18" fill="#75d5fd"/>
<text x="380.2" y="20.8" font-size="10.3">Ct values</text>
<text class="s" transform="translate(267.8,559.4) rotate(-45)" font-size="7.4" text-anchor="end">WT</text>
<text class="s" transform="translate(284.3,559.4) rotate(-45)" font-size="7.4" text-anchor="end">Mod</text>
<text class="s" transform="translate(300.8,559.4) rotate(-45)" font-size="7.4" text-anchor="end">WT</text>
<text class="s" transform="translate(317.9,559.4) rotate(-45)" font-size="7.4" text-anchor="end">Mod</text>
<line x1="261.9" y1="575.3" x2="287.9" y2="575.3" stroke="#666" stroke-width="0.8"/>
<text class="s" x="274.7" y="586.2" font-size="8" text-anchor="middle">N</text>
<line x1="297.2" y1="575.3" x2="323.2" y2="575.3" stroke="#666" stroke-width="0.8"/>
<text class="s" x="309.8" y="586.2" font-size="8" text-anchor="middle">E</text>
<text x="456" y="41.1" font-size="10.2">ENHANCEv1</text>
<rect x="462.1" y="56.9" width="20.0" height="19.8" fill="#d6fbc0" shape-rendering="crispEdges"/>
<text x="472.0" y="69.2" font-size="10" text-anchor="middle">30</text>
<rect x="482.1" y="56.9" width="20.0" height="19.8" fill="#b291ea" shape-rendering="crispEdges"/>
<text x="492.5" y="69.2" font-size="10" text-anchor="middle">1</text>
<rect x="462.1" y="76.7" width="20.0" height="19.8" fill="#ffd5b3" shape-rendering="crispEdges"/>
<text x="472.0" y="90.7" font-size="10" text-anchor="middle">1</text>
<rect x="482.1" y="76.7" width="20.0" height="19.8" fill="#fc6b6f" shape-rendering="crispEdges"/>
<text x="492.5" y="90.7" font-size="10" text-anchor="middle">30</text>
<text x="470.1" y="55.8" font-size="11.8" text-anchor="middle" style="stroke-width:0.25px">+</text>
<text x="492.1" y="56.2" font-size="11.8" text-anchor="middle" style="stroke-width:0.35px">-</text>
<text x="457.3" y="70.0" font-size="11.8" text-anchor="middle" style="stroke-width:0.25px">+</text>
<text x="457.9" y="92.3" font-size="11.8" text-anchor="middle" style="stroke-width:0.35px">-</text>
<text transform="translate(444.6,73.9) rotate(-90)" font-size="10.3" text-anchor="middle">RT-qPCR</text>
<text x="564.5" y="41.9" font-size="10.2">Lateral Flow</text>
<rect x="571.2" y="57.9" width="20.0" height="19.8" fill="#75d5fd" shape-rendering="crispEdges"/>
<text x="581.2" y="71.0" font-size="10" text-anchor="middle">31</text>
<rect x="591.2" y="57.9" width="20.0" height="19.8" fill="#bfbfbf" shape-rendering="crispEdges"/>
<text x="602.2" y="71.0" font-size="10" text-anchor="middle">0</text>
<rect x="571.2" y="77.7" width="20.0" height="19.8" fill="#bfbfbf" shape-rendering="crispEdges"/>
<text x="581.2" y="92.5" font-size="10" text-anchor="middle">0</text>
<rect x="591.2" y="77.7" width="20.0" height="19.8" fill="#75d5fd" shape-rendering="crispEdges"/>
<text x="602.2" y="92.5" font-size="10" text-anchor="middle">31</text>
<text x="583.2" y="55.8" font-size="11.8" text-anchor="middle" style="stroke-width:0.25px">+</text>
<text x="605.0" y="56.2" font-size="11.8" text-anchor="middle" style="stroke-width:0.35px">-</text>
<text x="563.1" y="72.0" font-size="11.8" text-anchor="middle" style="stroke-width:0.25px">+</text>
<text x="563.8" y="94.5" font-size="11.8" text-anchor="middle" style="stroke-width:0.35px">-</text>
<text transform="translate(553.6,78.8) rotate(-90)" font-size="10.3" text-anchor="middle">Fluorescence</text>
<text x="432.6" y="154.7" font-size="14.5" font-weight="bold">c</text>
<text x="488.1" y="148.8" font-size="10.2" text-anchor="middle">p34</text>
<text x="521" y="148.8" font-size="10.2" text-anchor="middle">p22</text>
<text x="554.3" y="148.8" font-size="10.2" text-anchor="middle">p30</text>
<text x="587.3" y="148.8" font-size="10.2" text-anchor="middle">p29</text>
<text x="621.5" y="148.8" font-size="10.2" text-anchor="middle">p35</text>
<path d="M468.2,370.5 L468.2,153.5 L638.5,153.5 Q641.3,153.5 641.3,156.3 L641.3,370.5 Z" fill="#ffffff" stroke="#8c8c8c" stroke-width="1"/>
<line x1="461.6" y1="154.3" x2="461.6" y2="253.8" stroke="#555" stroke-width="0.9"/>
<line x1="461.6" y1="271" x2="461.6" y2="370" stroke="#555" stroke-width="0.9"/>
<text transform="translate(455.8,204.5) rotate(-90)" font-size="10" text-anchor="middle">N - gene</text>
<text transform="translate(455.6,316.8) rotate(-90)" font-size="10" text-anchor="middle">E - gene</text>
<defs><linearGradient id="cap" x1="0" y1="0" x2="0" y2="1"><stop offset="0" stop-color="#eceef2"/><stop offset="0.5" stop-color="#d9dee5"/><stop offset="1" stop-color="#eceff4"/></linearGradient></defs>
<rect x="470" y="158" width="166" height="98" fill="#fbfbfb"/>
<rect x="470" y="272.5" width="166" height="92" fill="#fbfbfb"/>
<rect x="476.2" y="160.3" width="7.6" height="93.5" fill="#f2f6fc"/><rect x="476.2" y="163.3" width="7.6" height="7" fill="url(#cap)"/><rect x="476.2" y="197.1" width="7.6" height="1.4" fill="#9c4c64"/><rect x="476.2" y="172.2" width="7.6" height="0.8" fill="#e9bccb"/><rect x="476.2" y="208.5" width="7.6" height="34.3" fill="#c9ea40"/><rect x="476.2" y="242.8" width="7.6" height="11.0" fill="#eef2f9"/><path d="M476.4,237.3 L476.4,212.7 L480.0,216.7 L483.6,212.7 L483.6,237.3 L481.2,237.3 L481.2,218.7 L478.7,218.7 L478.7,237.3 Z" fill="#ea2240"/><path d="M483.8,160.3 L485.1,160.3 L484.8,253.8 L483.8,253.8 Z" fill="#85858d"/><rect x="483.8" y="160.3" width="1.3" height="8" fill="#4a4a52"/>
<rect x="476.2" y="274.8" width="7.6" height="87.7" fill="#f2f6fc"/><rect x="476.2" y="277.8" width="7.6" height="7" fill="url(#cap)"/><rect x="476.2" y="308.7" width="7.6" height="1.4" fill="#9c4c64"/><rect x="476.2" y="285.9" width="7.6" height="0.8" fill="#e9bccb"/><rect x="476.2" y="320.6" width="7.6" height="31.4" fill="#c9ea40"/><rect x="476.2" y="352.0" width="7.6" height="10.5" fill="#eef2f9"/><path d="M476.4,346.5 L476.4,324.8 L480.0,328.8 L483.6,324.8 L483.6,346.5 L481.2,346.5 L481.2,330.8 L478.7,330.8 L478.7,346.5 Z" fill="#ea2240"/><path d="M483.8,274.8 L485.1,274.8 L484.8,362.5 L483.8,362.5 Z" fill="#85858d"/><rect x="483.8" y="274.8" width="1.3" height="8" fill="#4a4a52"/>
<rect x="488.0" y="160.3" width="7.6" height="93.5" fill="#f2f6fc"/><rect x="488.0" y="163.3" width="7.6" height="7" fill="url(#cap)"/><rect x="488.0" y="197.1" width="7.6" height="1.4" fill="#9c4c64"/><rect x="488.0" y="172.2" width="7.6" height="0.8" fill="#e9bccb"/><rect x="488.0" y="208.5" width="7.6" height="34.3" fill="#c9ea40"/><rect x="488.0" y="242.8" width="7.6" height="11.0" fill="#eef2f9"/><path d="M488.2,237.3 L488.2,212.7 L491.8,216.7 L495.4,212.7 L495.4,237.3 L493.0,237.3 L493.0,218.7 L490.5,218.7 L490.5,237.3 Z" fill="#ea2240"/><path d="M495.6,160.3 L496.9,160.3 L496.6,253.8 L495.6,253.8 Z" fill="#85858d"/><rect x="495.6" y="160.3" width="1.3" height="8" fill="#4a4a52"/>
<rect x="488.0" y="274.8" width="7.6" height="87.7" fill="#f2f6fc"/><rect x="488.0" y="277.8" width="7.6" height="7" fill="url(#cap)"/><rect x="488.0" y="308.7" width="7.6" height="1.4" fill="#9c4c64"/><rect x="488.0" y="285.9" width="7.6" height="0.8" fill="#e9bccb"/><rect x="488.0" y="320.6" width="7.6" height="31.4" fill="#c9ea40"/><rect x="488.0" y="352.0" width="7.6" height="10.5" fill="#eef2f9"/><path d="M491.2,346.5 L491.2,329.8 L488.2,330.3 L488.2,327.3 L489.5,328.8 L492.2,324.8 L495.4,329.8 L493.2,329.8 L493.2,346.5 Z" fill="#ea2240"/><path d="M495.6,274.8 L496.9,274.8 L496.6,362.5 L495.6,362.5 Z" fill="#85858d"/><rect x="495.6" y="274.8" width="1.3" height="8" fill="#4a4a52"/>
<rect x="508.8" y="160.3" width="7.6" height="93.5" fill="#f8eef7"/><rect x="508.8" y="163.3" width="7.6" height="7" fill="url(#cap)"/><rect x="508.8" y="171.9" width="7.6" height="1.4" fill="#9c4c64"/><rect x="508.8" y="197.4" width="7.6" height="0.8" fill="#e9bccb"/><rect x="508.8" y="208.5" width="7.6" height="34.3" fill="#c9ea40"/><rect x="508.8" y="242.8" width="7.6" height="11.0" fill="#eef2f9"/><path d="M512.0,237.3 L512.0,217.7 L509.0,218.2 L509.0,215.2 L510.3,216.7 L513.0,212.7 L516.2,217.7 L514.0,217.7 L514.0,237.3 Z" fill="#ea2240"/><path d="M516.4,160.3 L517.7,160.3 L517.4,253.8 L516.4,253.8 Z" fill="#85858d"/><rect x="516.4" y="160.3" width="1.3" height="8" fill="#4a4a52"/>
<rect x="508.8" y="274.8" width="7.6" height="87.7" fill="#f8eef7"/><rect x="508.8" y="277.8" width="7.6" height="7" fill="url(#cap)"/><rect x="508.8" y="285.6" width="7.6" height="1.4" fill="#9c4c64"/><rect x="508.8" y="309.0" width="7.6" height="0.8" fill="#e9bccb"/><rect x="508.8" y="320.6" width="7.6" height="31.4" fill="#c9ea40"/><rect x="508.8" y="352.0" width="7.6" height="10.5" fill="#eef2f9"/><path d="M512.0,346.5 L512.0,329.8 L509.0,330.3 L509.0,327.3 L510.3,328.8 L513.0,324.8 L516.2,329.8 L514.0,329.8 L514.0,346.5 Z" fill="#ea2240"/><path d="M516.4,274.8 L517.7,274.8 L517.4,362.5 L516.4,362.5 Z" fill="#85858d"/><rect x="516.4" y="274.8" width="1.3" height="8" fill="#4a4a52"/>
<rect x="520.2" y="160.3" width="7.6" height="93.5" fill="#f8eef7"/><rect x="520.2" y="163.3" width="7.6" height="7" fill="url(#cap)"/><rect x="520.2" y="171.9" width="7.6" height="1.4" fill="#9c4c64"/><rect x="520.2" y="197.4" width="7.6" height="0.8" fill="#e9bccb"/><rect x="520.2" y="208.5" width="7.6" height="34.3" fill="#c9ea40"/><rect x="520.2" y="242.8" width="7.6" height="11.0" fill="#eef2f9"/><path d="M523.4,237.3 L523.4,217.7 L520.4,218.2 L520.4,215.2 L521.7,216.7 L524.4,212.7 L527.6,217.7 L525.4,217.7 L525.4,237.3 Z" fill="#ea2240"/><path d="M527.8,160.3 L529.1,160.3 L528.8,253.8 L527.8,253.8 Z" fill="#85858d"/><rect x="527.8" y="160.3" width="1.3" height="8" fill="#4a4a52"/>
<rect x="520.2" y="274.8" width="7.6" height="87.7" fill="#f8eef7"/><rect x="520.2" y="277.8" width="7.6" height="7" fill="url(#cap)"/><rect x="520.2" y="285.6" width="7.6" height="1.4" fill="#9c4c64"/><rect x="520.2" y="309.0" width="7.6" height="0.8" fill="#e9bccb"/><rect x="520.2" y="320.6" width="7.6" height="31.4" fill="#c9ea40"/><rect x="520.2" y="352.0" width="7.6" height="10.5" fill="#eef2f9"/><path d="M523.4,346.5 L523.4,329.8 L520.4,330.3 L520.4,327.3 L521.7,328.8 L524.4,324.8 L527.6,329.8 L525.4,329.8 L525.4,346.5 Z" fill="#ea2240"/><path d="M527.8,274.8 L529.1,274.8 L528.8,362.5 L527.8,362.5 Z" fill="#85858d"/><rect x="527.8" y="274.8" width="1.3" height="8" fill="#4a4a52"/>
<rect x="542.4" y="160.3" width="7.6" height="93.5" fill="#f8eef7"/><rect x="542.4" y="163.3" width="7.6" height="7" fill="url(#cap)"/><rect x="542.4" y="171.9" width="7.6" height="1.4" fill="#9c4c64"/><rect x="542.4" y="197.4" width="7.6" height="0.8" fill="#e9bccb"/><rect x="542.4" y="208.5" width="7.6" height="34.3" fill="#c9ea40"/><rect x="542.4" y="242.8" width="7.6" height="11.0" fill="#eef2f9"/><path d="M542.6,237.3 L542.6,212.7 L546.2,216.7 L549.8,212.7 L549.8,237.3 L547.4,237.3 L547.4,218.7 L544.9,218.7 L544.9,237.3 Z" fill="#ea2240"/><path d="M550.0,160.3 L551.3,160.3 L551.0,253.8 L550.0,253.8 Z" fill="#85858d"/><rect x="550.0" y="160.3" width="1.3" height="8" fill="#4a4a52"/>
<rect x="542.4" y="274.8" width="7.6" height="87.7" fill="#f8eef7"/><rect x="542.4" y="277.8" width="7.6" height="7" fill="url(#cap)"/><rect x="542.4" y="285.6" width="7.6" height="1.4" fill="#9c4c64"/><rect x="542.4" y="309.0" width="7.6" height="0.8" fill="#e9bccb"/><rect x="542.4" y="320.6" width="7.6" height="31.4" fill="#c9ea40"/><rect x="542.4" y="352.0" width="7.6" height="10.5" fill="#eef2f9"/><path d="M545.6,346.5 L545.6,329.8 L542.6,330.3 L542.6,327.3 L543.9,328.8 L546.6,324.8 L549.8,329.8 L547.6,329.8 L547.6,346.5 Z" fill="#ea2240"/><path d="M550.0,274.8 L551.3,274.8 L551.0,362.5 L550.0,362.5 Z" fill="#85858d"/><rect x="550.0" y="274.8" width="1.3" height="8" fill="#4a4a52"/>
<rect x="553.8" y="160.3" width="7.6" height="93.5" fill="#f8eef7"/><rect x="553.8" y="163.3" width="7.6" height="7" fill="url(#cap)"/><rect x="553.8" y="171.9" width="7.6" height="1.4" fill="#9c4c64"/><rect x="553.8" y="197.4" width="7.6" height="0.8" fill="#e9bccb"/><rect x="553.8" y="208.5" width="7.6" height="34.3" fill="#c9ea40"/><rect x="553.8" y="242.8" width="7.6" height="11.0" fill="#eef2f9"/><path d="M557.0,237.3 L557.0,217.7 L554.0,218.2 L554.0,215.2 L555.3,216.7 L558.0,212.7 L561.2,217.7 L559.0,217.7 L559.0,237.3 Z" fill="#ea2240"/><path d="M561.4,160.3 L562.7,160.3 L562.4,253.8 L561.4,253.8 Z" fill="#85858d"/><rect x="561.4" y="160.3" width="1.3" height="8" fill="#4a4a52"/>
<rect x="553.8" y="274.8" width="7.6" height="87.7" fill="#f8eef7"/><rect x="553.8" y="277.8" width="7.6" height="7" fill="url(#cap)"/><rect x="553.8" y="285.6" width="7.6" height="1.4" fill="#9c4c64"/><rect x="553.8" y="309.0" width="7.6" height="0.8" fill="#e9bccb"/><rect x="553.8" y="320.6" width="7.6" height="31.4" fill="#c9ea40"/><rect x="553.8" y="352.0" width="7.6" height="10.5" fill="#eef2f9"/><path d="M557.0,346.5 L557.0,329.8 L554.0,330.3 L554.0,327.3 L555.3,328.8 L558.0,324.8 L561.2,329.8 L559.0,329.8 L559.0,346.5 Z" fill="#ea2240"/><path d="M561.4,274.8 L562.7,274.8 L562.4,362.5 L561.4,362.5 Z" fill="#85858d"/><rect x="561.4" y="274.8" width="1.3" height="8" fill="#4a4a52"/>
<rect x="577.0" y="160.3" width="7.6" height="93.5" fill="#f8eef7"/><rect x="577.0" y="163.3" width="7.6" height="7" fill="url(#cap)"/><rect x="577.0" y="171.9" width="7.6" height="1.4" fill="#9c4c64"/><rect x="577.0" y="197.4" width="7.6" height="0.8" fill="#e9bccb"/><rect x="577.0" y="208.5" width="7.6" height="34.3" fill="#c9ea40"/><rect x="577.0" y="242.8" width="7.6" height="11.0" fill="#eef2f9"/><path d="M577.2,237.3 L577.2,212.7 L580.8,216.7 L584.4,212.7 L584.4,237.3 L582.0,237.3 L582.0,218.7 L579.5,218.7 L579.5,237.3 Z" fill="#ea2240"/><path d="M584.6,160.3 L585.9,160.3 L585.6,253.8 L584.6,253.8 Z" fill="#85858d"/><rect x="584.6" y="160.3" width="1.3" height="8" fill="#4a4a52"/>
<rect x="577.0" y="274.8" width="7.6" height="87.7" fill="#f8eef7"/><rect x="577.0" y="277.8" width="7.6" height="7" fill="url(#cap)"/><rect x="577.0" y="285.6" width="7.6" height="1.4" fill="#9c4c64"/><rect x="577.0" y="309.0" width="7.6" height="0.8" fill="#e9bccb"/><rect x="577.0" y="320.6" width="7.6" height="31.4" fill="#c9ea40"/><rect x="577.0" y="352.0" width="7.6" height="10.5" fill="#eef2f9"/><path d="M580.2,346.5 L580.2,329.8 L577.2,330.3 L577.2,327.3 L578.5,328.8 L581.2,324.8 L584.4,329.8 L582.2,329.8 L582.2,346.5 Z" fill="#ea2240"/><path d="M584.6,274.8 L585.9,274.8 L585.6,362.5 L584.6,362.5 Z" fill="#85858d"/><rect x="584.6" y="274.8" width="1.3" height="8" fill="#4a4a52"/>
<rect x="588.4" y="160.3" width="7.6" height="93.5" fill="#f8eef7"/><rect x="588.4" y="163.3" width="7.6" height="7" fill="url(#cap)"/><rect x="588.4" y="171.9" width="7.6" height="1.4" fill="#9c4c64"/><rect x="588.4" y="197.4" width="7.6" height="0.8" fill="#e9bccb"/><rect x="588.4" y="208.5" width="7.6" height="34.3" fill="#c9ea40"/><rect x="588.4" y="242.8" width="7.6" height="11.0" fill="#eef2f9"/><path d="M591.6,237.3 L591.6,217.7 L588.6,218.2 L588.6,215.2 L589.9,216.7 L592.6,212.7 L595.8,217.7 L593.6,217.7 L593.6,237.3 Z" fill="#ea2240"/><path d="M596.0,160.3 L597.3,160.3 L597.0,253.8 L596.0,253.8 Z" fill="#85858d"/><rect x="596.0" y="160.3" width="1.3" height="8" fill="#4a4a52"/>
<rect x="588.4" y="274.8" width="7.6" height="87.7" fill="#f8eef7"/><rect x="588.4" y="277.8" width="7.6" height="7" fill="url(#cap)"/><rect x="588.4" y="285.6" width="7.6" height="1.4" fill="#9c4c64"/><rect x="588.4" y="309.0" width="7.6" height="0.8" fill="#e9bccb"/><rect x="588.4" y="320.6" width="7.6" height="31.4" fill="#c9ea40"/><rect x="588.4" y="352.0" width="7.6" height="10.5" fill="#eef2f9"/><path d="M591.6,346.5 L591.6,329.8 L588.6,330.3 L588.6,327.3 L589.9,328.8 L592.6,324.8 L595.8,329.8 L593.6,329.8 L593.6,346.5 Z" fill="#ea2240"/><path d="M596.0,274.8 L597.3,274.8 L597.0,362.5 L596.0,362.5 Z" fill="#85858d"/><rect x="596.0" y="274.8" width="1.3" height="8" fill="#4a4a52"/>
<rect x="610.4" y="160.3" width="7.6" height="93.5" fill="#f2f6fc"/><rect x="610.4" y="163.3" width="7.6" height="7" fill="url(#cap)"/><rect x="610.4" y="197.1" width="7.6" height="1.4" fill="#9c4c64"/><rect x="610.4" y="172.2" width="7.6" height="0.8" fill="#e9bccb"/><rect x="610.4" y="208.5" width="7.6" height="34.3" fill="#c9ea40"/><rect x="610.4" y="242.8" width="7.6" height="11.0" fill="#eef2f9"/><path d="M610.6,237.3 L610.6,212.7 L614.2,216.7 L617.8,212.7 L617.8,237.3 L615.4,237.3 L615.4,218.7 L612.9,218.7 L612.9,237.3 Z" fill="#ea2240"/><path d="M618.0,160.3 L619.3,160.3 L619.0,253.8 L618.0,253.8 Z" fill="#85858d"/><rect x="618.0" y="160.3" width="1.3" height="8" fill="#4a4a52"/>
<rect x="610.4" y="274.8" width="7.6" height="87.7" fill="#f2f6fc"/><rect x="610.4" y="277.8" width="7.6" height="7" fill="url(#cap)"/><rect x="610.4" y="308.7" width="7.6" height="1.4" fill="#9c4c64"/><rect x="610.4" y="285.9" width="7.6" height="0.8" fill="#e9bccb"/><rect x="610.4" y="320.6" width="7.6" height="31.4" fill="#c9ea40"/><rect x="610.4" y="352.0" width="7.6" height="10.5" fill="#eef2f9"/><path d="M610.6,346.5 L610.6,324.8 L614.2,328.8 L617.8,324.8 L617.8,346.5 L615.4,346.5 L615.4,330.8 L612.9,330.8 L612.9,346.5 Z" fill="#ea2240"/><path d="M618.0,274.8 L619.3,274.8 L619.0,362.5 L618.0,362.5 Z" fill="#85858d"/><rect x="618.0" y="274.8" width="1.3" height="8" fill="#4a4a52"/>
<rect x="620.6" y="160.3" width="7.6" height="93.5" fill="#f2f6fc"/><rect x="620.6" y="163.3" width="7.6" height="7" fill="url(#cap)"/><rect x="620.6" y="197.1" width="7.6" height="1.4" fill="#9c4c64"/><rect x="620.6" y="172.2" width="7.6" height="0.8" fill="#e9bccb"/><rect x="620.6" y="208.5" width="7.6" height="34.3" fill="#c9ea40"/><rect x="620.6" y="242.8" width="7.6" height="11.0" fill="#eef2f9"/><path d="M620.8,237.3 L620.8,212.7 L624.4,216.7 L628.0,212.7 L628.0,237.3 L625.6,237.3 L625.6,218.7 L623.1,218.7 L623.1,237.3 Z" fill="#ea2240"/><path d="M628.2,160.3 L629.5,160.3 L629.2,253.8 L628.2,253.8 Z" fill="#85858d"/><rect x="628.2" y="160.3" width="1.3" height="8" fill="#4a4a52"/>
<rect x="620.6" y="274.8" width="7.6" height="87.7" fill="#f2f6fc"/><rect x="620.6" y="277.8" width="7.6" height="7" fill="url(#cap)"/><rect x="620.6" y="308.7" width="7.6" height="1.4" fill="#9c4c64"/><rect x="620.6" y="285.9" width="7.6" height="0.8" fill="#e9bccb"/><rect x="620.6" y="320.6" width="7.6" height="31.4" fill="#c9ea40"/><rect x="620.6" y="352.0" width="7.6" height="10.5" fill="#eef2f9"/><path d="M620.8,346.5 L620.8,324.8 L624.4,328.8 L628.0,324.8 L628.0,346.5 L625.6,346.5 L625.6,330.8 L623.1,330.8 L623.1,346.5 Z" fill="#ea2240"/><path d="M628.2,274.8 L629.5,274.8 L629.2,362.5 L628.2,362.5 Z" fill="#85858d"/><rect x="628.2" y="274.8" width="1.3" height="8" fill="#4a4a52"/>
<text class="s" transform="translate(484.1,373.2) rotate(-90)" font-size="7.0" text-anchor="end">WT</text>
<text class="s" transform="translate(490.6,374) rotate(-90)" font-size="7.0" text-anchor="end">Mod</text>
<text class="s" transform="translate(517.6,373.2) rotate(-90)" font-size="7.0" text-anchor="end">WT</text>
<text class="s" transform="translate(524.1,374) rotate(-90)" font-size="7.0" text-anchor="end">Mod</text>
<text class="s" transform="translate(551.1,373.2) rotate(-90)" font-size="7.0" text-anchor="end">WT</text>
<text class="s" transform="translate(557.6,374) rotate(-90)" font-size="7.0" text-anchor="end">Mod</text>
<text class="s" transform="translate(582.3,373.2) rotate(-90)" font-size="7.0" text-anchor="end">WT</text>
<text class="s" transform="translate(588.8,374) rotate(-90)" font-size="7.0" text-anchor="end">Mod</text>
<text class="s" transform="translate(617.8,373.2) rotate(-90)" font-size="7.0" text-anchor="end">WT</text>
<text class="s" transform="translate(624.3,374) rotate(-90)" font-size="7.0" text-anchor="end">Mod</text>
<text x="434.6" y="396.8" font-size="14.5" font-weight="bold">d</text>
<path d="M465.6,417.3 L465.6,549.2 L680,549.2" fill="none" stroke="#222" stroke-width="1"/>
<path d="M465.6,417.3 L680,417.3 L680,551.7" fill="none" stroke="#222" stroke-width="1"/>
<line x1="588.0" y1="417.3" x2="588.0" y2="551.7" stroke="#222" stroke-width="1"/>
<line x1="462.6" y1="549.2" x2="465.6" y2="549.2" stroke="#222" stroke-width="1"/>
<text x="461.2" y="552.9" font-size="10.2" text-anchor="end">0</text>
<line x1="462.6" y1="527.2" x2="465.6" y2="527.2" stroke="#222" stroke-width="1"/>
<text x="461.2" y="530.9" font-size="10.2" text-anchor="end">500</text>
<line x1="462.6" y1="505.2" x2="465.6" y2="505.2" stroke="#222" stroke-width="1"/>
<text x="461.2" y="508.9" font-size="10.2" text-anchor="end">1000</text>
<line x1="462.6" y1="483.2" x2="465.6" y2="483.2" stroke="#222" stroke-width="1"/>
<text x="461.2" y="486.9" font-size="10.2" text-anchor="end">1500</text>
<line x1="462.6" y1="461.2" x2="465.6" y2="461.2" stroke="#222" stroke-width="1"/>
<text x="461.2" y="464.9" font-size="10.2" text-anchor="end">2000</text>
<line x1="462.6" y1="439.2" x2="465.6" y2="439.2" stroke="#222" stroke-width="1"/>
<text x="461.2" y="442.9" font-size="10.2" text-anchor="end">2500</text>
<line x1="462.6" y1="417.2" x2="465.6" y2="417.2" stroke="#222" stroke-width="1"/>
<text x="461.2" y="420.9" font-size="10.2" text-anchor="end">3000</text>
<line x1="465.6" y1="549.2" x2="465.6" y2="552.2" stroke="#222" stroke-width="1"/>
<text x="464.8" y="562.2" font-size="10.2" text-anchor="middle">0</text>
<line x1="496.2" y1="549.2" x2="496.2" y2="552.2" stroke="#222" stroke-width="1"/>
<text x="495.4" y="562.2" font-size="10.2" text-anchor="middle">10</text>
<line x1="526.8" y1="549.2" x2="526.8" y2="552.2" stroke="#222" stroke-width="1"/>
<text x="526.0" y="562.2" font-size="10.2" text-anchor="middle">20</text>
<line x1="557.4" y1="549.2" x2="557.4" y2="552.2" stroke="#222" stroke-width="1"/>
<text x="556.6" y="562.2" font-size="10.2" text-anchor="middle">30</text>
<line x1="588.0" y1="549.2" x2="588.0" y2="552.2" stroke="#222" stroke-width="1"/>
<text x="587.2" y="562.2" font-size="10.2" text-anchor="middle">40</text>
<line x1="633.5" y1="554.3" x2="676.8" y2="554.3" stroke="#333" stroke-width="0.8"/>
<text x="622.6" y="564.3" font-size="10">Undetermined</text>
<text x="576" y="576.9" font-size="10.2" text-anchor="middle">Ct value</text>
<text transform="translate(433.3,461.1) rotate(-90)" font-size="10.3" text-anchor="middle">RFU (x1000)</text>
<circle cx="559.0" cy="427.6" r="2.0" fill="#9a8cc6" fill-opacity="0.92"/>
<circle cx="555.9" cy="434.3" r="2.0" fill="#9a8cc6" fill-opacity="0.92"/>
<circle cx="549.7" cy="436.7" r="2.0" fill="#9a8cc6" fill-opacity="0.92"/>
<circle cx="556.4" cy="439.7" r="2.0" fill="#9a8cc6" fill-opacity="0.92"/>
<circle cx="563.8" cy="440.9" r="2.0" fill="#9a8cc6" fill-opacity="0.92"/>
<circle cx="572.6" cy="442.5" r="2.0" fill="#9a8cc6" fill-opacity="0.92"/>
<circle cx="545.6" cy="450.5" r="2.0" fill="#9a8cc6" fill-opacity="0.92"/>
<circle cx="548.7" cy="449.7" r="2.0" fill="#9a8cc6" fill-opacity="0.92"/>
<circle cx="578.5" cy="450.7" r="2.0" fill="#9a8cc6" fill-opacity="0.92"/>
<circle cx="516.8" cy="457.9" r="2.0" fill="#9a8cc6" fill-opacity="0.92"/>
<circle cx="562.9" cy="454.6" r="2.0" fill="#9a8cc6" fill-opacity="0.92"/>
<circle cx="565.8" cy="456.2" r="2.0" fill="#9a8cc6" fill-opacity="0.92"/>
<circle cx="569.7" cy="456.7" r="2.0" fill="#9a8cc6" fill-opacity="0.92"/>
<circle cx="574.7" cy="458.9" r="2.0" fill="#9a8cc6" fill-opacity="0.92"/>
<circle cx="582.1" cy="458.5" r="2.0" fill="#9a8cc6" fill-opacity="0.92"/>
<circle cx="584.1" cy="460.8" r="2.0" fill="#9a8cc6" fill-opacity="0.92"/>
<circle cx="548.4" cy="464.2" r="2.0" fill="#9a8cc6" fill-opacity="0.92"/>
<circle cx="556.9" cy="464.5" r="2.0" fill="#9a8cc6" fill-opacity="0.92"/>
<circle cx="568.4" cy="465.6" r="2.0" fill="#9a8cc6" fill-opacity="0.92"/>
<circle cx="575.2" cy="464.4" r="2.0" fill="#9a8cc6" fill-opacity="0.92"/>
<circle cx="579.5" cy="465.9" r="2.0" fill="#9a8cc6" fill-opacity="0.92"/>
<circle cx="580.9" cy="465.2" r="2.0" fill="#9a8cc6" fill-opacity="0.92"/>
<circle cx="539.0" cy="469.7" r="2.0" fill="#9a8cc6" fill-opacity="0.92"/>
<circle cx="564.8" cy="473.8" r="2.0" fill="#9a8cc6" fill-opacity="0.92"/>
<circle cx="570.4" cy="478.2" r="2.0" fill="#9a8cc6" fill-opacity="0.92"/>
<circle cx="575.4" cy="482.0" r="2.0" fill="#9a8cc6" fill-opacity="0.92"/>
<circle cx="548.7" cy="484.5" r="2.0" fill="#9a8cc6" fill-opacity="0.92"/>
<circle cx="550.4" cy="486.2" r="2.0" fill="#9a8cc6" fill-opacity="0.92"/>
<circle cx="511.1" cy="502.5" r="2.0" fill="#9a8cc6" fill-opacity="0.92"/>
<circle cx="571.9" cy="532.0" r="2.0" fill="#9a8cc6" fill-opacity="0.92"/>
<circle cx="581.0" cy="548.4" r="2.0" fill="#9a8cc6" fill-opacity="0.92"/>
<circle cx="590.4" cy="548.6" r="2.0" fill="#60c9a5" fill-opacity="0.92"/>
<circle cx="592.5" cy="548.6" r="2.0" fill="#60c9a5" fill-opacity="0.92"/>
<circle cx="594.6" cy="548.6" r="2.0" fill="#60c9a5" fill-opacity="0.92"/>
<circle cx="647.6" cy="527.8" r="2.0" fill="#60c9a5" fill-opacity="0.92"/>
<circle cx="634.2" cy="548.6" r="2.0" fill="#60c9a5" fill-opacity="0.92"/>
<circle cx="635.6" cy="548.6" r="2.0" fill="#60c9a5" fill-opacity="0.92"/>
<circle cx="637.0" cy="548.6" r="2.0" fill="#60c9a5" fill-opacity="0.92"/>
<circle cx="638.4" cy="548.6" r="2.0" fill="#60c9a5" fill-opacity="0.92"/>
<circle cx="639.8" cy="548.6" r="2.0" fill="#60c9a5" fill-opacity="0.92"/>
<circle cx="641.2" cy="548.6" r="2.0" fill="#60c9a5" fill-opacity="0.92"/>
<circle cx="642.6" cy="548.6" r="2.0" fill="#60c9a5" fill-opacity="0.92"/>
<circle cx="644.0" cy="548.6" r="2.0" fill="#60c9a5" fill-opacity="0.92"/>
<circle cx="651.0" cy="548.6" r="2.0" fill="#60c9a5" fill-opacity="0.92"/>
<circle cx="652.5" cy="548.6" r="2.0" fill="#60c9a5" fill-opacity="0.92"/>
<circle cx="653.9" cy="548.6" r="2.0" fill="#60c9a5" fill-opacity="0.92"/>
<circle cx="655.4" cy="548.6" r="2.0" fill="#60c9a5" fill-opacity="0.92"/>
<circle cx="656.8" cy="548.6" r="2.0" fill="#60c9a5" fill-opacity="0.92"/>
<circle cx="658.3" cy="548.6" r="2.0" fill="#60c9a5" fill-opacity="0.92"/>
<circle cx="659.7" cy="548.6" r="2.0" fill="#60c9a5" fill-opacity="0.92"/>
<circle cx="661.2" cy="548.6" r="2.0" fill="#60c9a5" fill-opacity="0.92"/>
<circle cx="662.6" cy="548.6" r="2.0" fill="#60c9a5" fill-opacity="0.92"/>
<circle cx="664.1" cy="548.6" r="2.0" fill="#60c9a5" fill-opacity="0.92"/>
<circle cx="665.5" cy="548.6" r="2.0" fill="#60c9a5" fill-opacity="0.92"/>
<circle cx="667.0" cy="548.6" r="2.0" fill="#60c9a5" fill-opacity="0.92"/>
<circle cx="668.4" cy="548.6" r="2.0" fill="#60c9a5" fill-opacity="0.92"/>
<circle cx="669.9" cy="548.6" r="2.0" fill="#60c9a5" fill-opacity="0.92"/>
<circle cx="671.3" cy="548.6" r="2.0" fill="#60c9a5" fill-opacity="0.92"/>
<circle cx="672.8" cy="548.6" r="2.0" fill="#60c9a5" fill-opacity="0.92"/>
<circle cx="674.2" cy="548.6" r="2.0" fill="#60c9a5" fill-opacity="0.92"/>
<circle cx="675.7" cy="548.6" r="2.0" fill="#60c9a5" fill-opacity="0.92"/>
<circle cx="677.1" cy="548.6" r="2.0" fill="#60c9a5" fill-opacity="0.92"/>
<circle cx="678.6" cy="548.6" r="2.0" fill="#60c9a5" fill-opacity="0.92"/>
<rect x="615.3" y="434.1" width="54.2" height="24.5" fill="#fff" stroke="#444" stroke-width="0.7"/>
<circle cx="621.3" cy="439.8" r="1.4" fill="#9d8fc9"/>
<circle cx="621.3" cy="451.8" r="1.4" fill="#5ccfa4"/>
<text class="s" x="627" y="442.9" font-size="8.4">Positive</text>
<text class="s" x="627" y="454.7" font-size="8.4">Negative</text>
</svg>
</body></html>
